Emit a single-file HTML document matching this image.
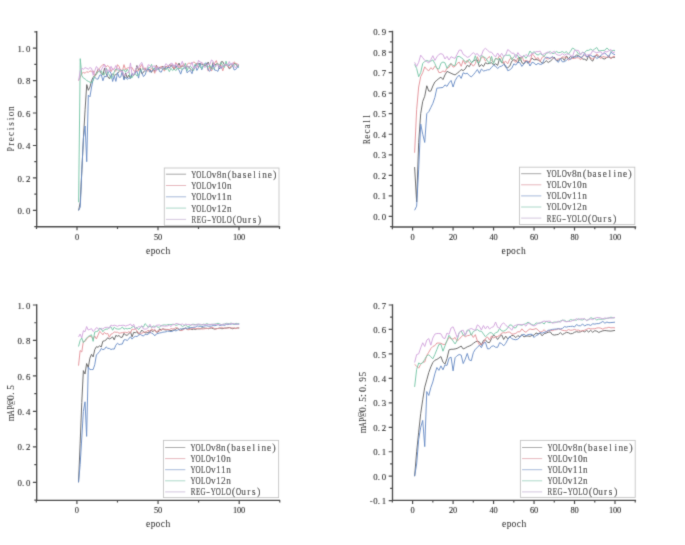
<!DOCTYPE html>
<html><head><meta charset="utf-8"><title>Training curves</title>
<style>
html,body{margin:0;padding:0;background:#ffffff;}
body{width:685px;height:545px;overflow:hidden;}
svg{display:block;}
text{font-family:"Liberation Serif",serif;}
</style></head>
<body>
<svg width="685" height="545" viewBox="0 0 685 545">
<defs><filter id="cv" filterUnits="userSpaceOnUse" x="0" y="0" width="685" height="545">
<feConvolveMatrix order="3" kernelMatrix="1 4 1 4 16 4 1 4 1" divisor="36" edgeMode="none"/></filter>
<filter id="cvl" filterUnits="userSpaceOnUse" x="0" y="0" width="685" height="545">
<feConvolveMatrix order="3" kernelMatrix="1 6 1 6 36 6 1 6 1" divisor="64" edgeMode="none"/></filter></defs>
<rect width="685" height="545" fill="#ffffff"/>
<g filter="url(#cvl)">
<polyline points="78.62,210.40 80.24,202.28 81.86,169.82 83.48,137.37 85.10,109.77 86.72,84.62 88.34,90.30 89.96,87.05 91.58,80.56 93.20,77.31 94.82,75.31 96.44,73.11 98.06,69.31 99.68,69.91 101.30,73.57 102.92,75.18 104.54,68.07 106.16,73.49 107.78,76.68 109.40,78.74 111.02,75.31 112.64,74.08 114.26,75.25 115.88,74.64 117.50,73.33 119.12,71.53 120.74,69.63 122.36,71.90 123.98,79.02 125.60,73.03 127.22,77.89 128.84,75.12 130.46,78.34 132.08,74.34 133.70,75.50 135.32,72.45 136.94,65.50 138.56,69.96 140.18,68.23 141.80,73.70 143.42,72.48 145.04,69.47 146.66,70.36 148.28,69.32 149.90,69.58 151.52,72.42 153.14,69.07 154.76,71.52 156.38,65.16 158.00,69.30 159.62,67.33 161.24,68.39 162.86,66.12 164.48,69.36 166.10,66.05 167.72,67.85 169.34,64.67 170.96,65.39 172.58,66.84 174.20,69.64 175.82,66.44 177.44,66.23 179.06,63.10 180.68,67.38 182.30,66.22 183.92,65.97 185.54,66.45 187.16,66.77 188.78,66.91 190.40,68.95 192.02,70.62 193.64,69.49 195.26,66.57 196.88,63.28 198.50,63.65 200.12,63.54 201.74,64.20 203.36,64.58 204.98,66.01 206.60,64.89 208.22,62.05 209.84,66.51 211.46,68.77 213.08,62.53 214.70,65.09 216.32,63.95 217.94,63.84 219.56,69.00 221.18,61.78 222.80,61.75 224.42,64.89 226.04,64.31 227.66,65.74 229.28,68.77 230.90,67.65 232.52,66.03 234.14,63.59 235.76,63.90 237.38,66.39 239.00,65.65" fill="none" stroke="#666666" stroke-width="0.95" stroke-linejoin="round"/>
<polyline points="78.62,80.56 80.24,77.31 81.86,73.26 83.48,72.44 85.10,73.26 86.72,71.63 88.34,72.44 89.96,70.82 91.58,71.63 93.20,70.82 94.82,76.54 96.44,74.30 98.06,69.81 99.68,67.85 101.30,66.36 102.92,64.52 104.54,64.56 106.16,66.97 107.78,65.47 109.40,67.22 111.02,71.69 112.64,68.48 114.26,70.00 115.88,71.33 117.50,64.65 119.12,66.51 120.74,71.17 122.36,71.23 123.98,64.65 125.60,69.83 127.22,67.99 128.84,67.69 130.46,67.83 132.08,67.50 133.70,70.79 135.32,71.59 136.94,70.72 138.56,70.98 140.18,67.11 141.80,64.46 143.42,69.94 145.04,67.68 146.66,70.90 148.28,71.01 149.90,69.74 151.52,68.34 153.14,69.26 154.76,73.31 156.38,65.74 158.00,67.72 159.62,69.17 161.24,66.03 162.86,68.35 164.48,71.13 166.10,66.80 167.72,65.59 169.34,68.40 170.96,64.87 172.58,65.01 174.20,69.00 175.82,62.58 177.44,64.53 179.06,68.79 180.68,65.86 182.30,65.82 183.92,63.56 185.54,68.96 187.16,64.27 188.78,63.10 190.40,63.37 192.02,63.65 193.64,61.86 195.26,62.87 196.88,64.70 198.50,67.77 200.12,63.54 201.74,62.58 203.36,64.08 204.98,64.88 206.60,63.60 208.22,71.14 209.84,66.50 211.46,71.07 213.08,66.63 214.70,63.13 216.32,60.59 217.94,65.29 219.56,64.31 221.18,65.31 222.80,70.84 224.42,65.12 226.04,65.34 227.66,65.16 229.28,67.75 230.90,66.13 232.52,65.29 234.14,61.87 235.76,63.41 237.38,64.04 239.00,65.15" fill="none" stroke="#e4949a" stroke-width="0.95" stroke-linejoin="round"/>
<polyline points="78.62,210.40 80.24,207.15 81.86,169.82 83.48,137.37 85.10,126.00 86.72,161.71 88.34,95.17 89.96,96.79 91.58,87.05 93.20,78.94 94.82,77.31 96.44,78.83 98.06,79.18 99.68,75.21 101.30,74.81 102.92,80.73 104.54,76.04 106.16,76.92 107.78,73.37 109.40,70.96 111.02,73.24 112.64,81.47 114.26,75.92 115.88,81.41 117.50,72.74 119.12,77.34 120.74,77.11 122.36,70.38 123.98,80.02 125.60,76.96 127.22,79.37 128.84,78.04 130.46,78.34 132.08,73.34 133.70,74.84 135.32,72.94 136.94,71.17 138.56,78.13 140.18,69.78 141.80,72.36 143.42,76.62 145.04,75.04 146.66,70.32 148.28,68.44 149.90,72.18 151.52,71.07 153.14,70.23 154.76,67.74 156.38,69.93 158.00,67.50 159.62,71.56 161.24,72.18 162.86,68.56 164.48,67.17 166.10,68.65 167.72,67.22 169.34,67.69 170.96,66.38 172.58,64.91 174.20,66.15 175.82,65.69 177.44,68.74 179.06,70.07 180.68,74.13 182.30,69.07 183.92,68.53 185.54,67.01 187.16,72.89 188.78,70.96 190.40,70.55 192.02,73.70 193.64,67.44 195.26,64.70 196.88,70.46 198.50,67.61 200.12,63.34 201.74,69.81 203.36,65.90 204.98,63.18 206.60,63.14 208.22,70.05 209.84,71.30 211.46,68.27 213.08,64.70 214.70,70.13 216.32,70.39 217.94,71.41 219.56,65.79 221.18,68.50 222.80,66.28 224.42,65.40 226.04,63.74 227.66,65.18 229.28,65.80 230.90,63.78 232.52,64.96 234.14,69.91 235.76,69.44 237.38,67.07 239.00,67.24" fill="none" stroke="#6c8ec6" stroke-width="0.95" stroke-linejoin="round"/>
<polyline points="78.62,202.28 80.24,58.65 81.86,75.69 83.48,78.13 85.10,78.94 86.72,80.56 88.34,81.37 89.96,82.18 91.58,82.83 93.20,80.56 94.82,75.69 96.44,74.07 98.06,71.60 99.68,71.67 101.30,70.73 102.92,74.67 104.54,74.43 106.16,68.08 107.78,73.24 109.40,74.86 111.02,78.50 112.64,76.52 114.26,71.97 115.88,68.91 117.50,69.91 119.12,70.22 120.74,70.43 122.36,71.26 123.98,69.30 125.60,72.39 127.22,69.16 128.84,71.72 130.46,77.25 132.08,77.73 133.70,74.19 135.32,73.81 136.94,75.97 138.56,75.00 140.18,71.49 141.80,69.83 143.42,68.02 145.04,71.71 146.66,69.47 148.28,67.00 149.90,67.89 151.52,64.40 153.14,69.00 154.76,69.05 156.38,68.47 158.00,69.67 159.62,69.00 161.24,67.95 162.86,68.20 164.48,69.35 166.10,69.43 167.72,68.39 169.34,71.69 170.96,68.29 172.58,70.53 174.20,69.00 175.82,70.67 177.44,68.11 179.06,68.54 180.68,68.34 182.30,69.49 183.92,67.62 185.54,63.27 187.16,70.61 188.78,66.87 190.40,66.46 192.02,67.87 193.64,70.54 195.26,64.05 196.88,65.62 198.50,63.99 200.12,66.98 201.74,68.85 203.36,64.69 204.98,64.29 206.60,66.79 208.22,67.30 209.84,65.30 211.46,68.29 213.08,69.25 214.70,67.50 216.32,64.28 217.94,63.67 219.56,65.17 221.18,62.65 222.80,65.67 224.42,67.43 226.04,61.19 227.66,66.04 229.28,64.69 230.90,64.37 232.52,65.36 234.14,65.36 235.76,64.14 237.38,65.64 239.00,66.33" fill="none" stroke="#78c6a8" stroke-width="0.95" stroke-linejoin="round"/>
<polyline points="78.62,80.56 80.24,70.82 81.86,68.39 83.48,69.20 85.10,67.58 86.72,68.39 88.34,69.20 89.96,67.58 91.58,68.39 93.20,75.37 94.82,70.65 96.44,66.49 98.06,68.88 99.68,71.47 101.30,69.91 102.92,66.93 104.54,64.23 106.16,72.73 107.78,69.46 109.40,71.37 111.02,66.29 112.64,70.01 114.26,68.95 115.88,65.51 117.50,69.19 119.12,68.52 120.74,71.78 122.36,71.17 123.98,75.67 125.60,74.32 127.22,72.60 128.84,72.59 130.46,62.92 132.08,74.86 133.70,74.94 135.32,69.77 136.94,66.82 138.56,67.39 140.18,64.07 141.80,62.51 143.42,67.50 145.04,71.24 146.66,69.10 148.28,64.72 149.90,65.37 151.52,67.16 153.14,66.22 154.76,65.92 156.38,71.16 158.00,66.79 159.62,68.84 161.24,67.78 162.86,68.11 164.48,66.51 166.10,63.62 167.72,65.74 169.34,65.30 170.96,63.15 172.58,63.68 174.20,66.88 175.82,63.84 177.44,66.17 179.06,66.48 180.68,65.23 182.30,61.32 183.92,66.54 185.54,66.81 187.16,65.39 188.78,67.67 190.40,65.69 192.02,62.00 193.64,69.09 195.26,66.28 196.88,67.43 198.50,60.30 200.12,62.04 201.74,62.52 203.36,64.59 204.98,67.65 206.60,65.56 208.22,64.15 209.84,64.58 211.46,59.94 213.08,61.26 214.70,66.15 216.32,66.20 217.94,64.36 219.56,67.82 221.18,66.11 222.80,66.73 224.42,64.73 226.04,64.23 227.66,66.10 229.28,61.51 230.90,65.11 232.52,62.78 234.14,66.68 235.76,67.60 237.38,64.77 239.00,64.54" fill="none" stroke="#d2a4dc" stroke-width="0.95" stroke-linejoin="round"/>
<polyline points="414.62,167.10 416.65,202.02 418.67,142.46 420.70,113.70 422.72,101.38 424.74,96.24 426.77,85.77 428.79,91.11 430.82,91.13 432.84,86.04 434.86,81.96 436.89,80.23 438.91,78.49 440.94,77.18 442.96,79.60 444.98,74.93 447.01,71.37 449.03,72.32 451.06,73.28 453.08,74.23 455.10,74.92 457.13,73.32 459.15,71.71 461.18,69.54 463.20,70.61 465.22,68.89 467.25,65.26 469.27,66.68 471.30,62.88 473.32,60.62 475.34,60.06 477.37,59.94 479.39,66.80 481.42,64.56 483.44,66.48 485.46,62.71 487.49,63.70 489.51,63.45 491.54,62.61 493.56,64.98 495.58,63.74 497.61,65.36 499.63,58.36 501.66,62.77 503.68,62.71 505.70,67.25 507.73,67.75 509.75,66.11 511.78,61.22 513.80,59.70 515.82,60.42 517.85,62.93 519.87,57.04 521.90,62.70 523.92,63.83 525.94,60.57 527.97,63.37 529.99,60.81 532.02,58.10 534.04,59.88 536.06,59.54 538.09,59.94 540.11,61.11 542.14,63.35 544.16,62.82 546.18,60.61 548.21,62.49 550.23,61.21 552.26,59.48 554.28,57.05 556.30,60.58 558.33,60.19 560.35,58.76 562.38,57.74 564.40,60.43 566.42,55.89 568.45,58.77 570.47,56.44 572.50,57.74 574.52,57.04 576.54,54.83 578.57,55.72 580.59,56.93 582.62,59.13 584.64,59.22 586.66,60.50 588.69,55.30 590.71,59.53 592.74,61.12 594.76,56.09 596.78,55.18 598.81,57.56 600.83,56.33 602.86,58.66 604.88,58.96 606.90,57.30 608.93,56.97 610.95,58.26 612.98,57.19 615.00,57.33" fill="none" stroke="#666666" stroke-width="0.95" stroke-linejoin="round"/>
<polyline points="414.62,152.73 416.65,109.59 418.67,87.00 420.70,76.73 422.72,72.62 424.74,66.84 426.77,69.44 428.79,70.79 430.82,67.71 432.84,69.51 434.86,66.24 436.89,67.90 438.91,72.57 440.94,72.45 442.96,70.92 444.98,72.00 447.01,68.18 449.03,67.41 451.06,63.53 453.08,67.18 455.10,66.29 457.13,63.56 459.15,62.06 461.18,66.32 463.20,60.27 465.22,64.24 467.25,60.12 469.27,62.85 471.30,63.80 473.32,66.18 475.34,63.73 477.37,56.76 479.39,62.16 481.42,57.61 483.44,56.74 485.46,61.20 487.49,58.24 489.51,56.50 491.54,60.63 493.56,62.42 495.58,58.25 497.61,59.05 499.63,55.41 501.66,57.80 503.68,62.87 505.70,61.22 507.73,63.82 509.75,59.08 511.78,57.71 513.80,60.34 515.82,62.41 517.85,57.98 519.87,60.16 521.90,56.26 523.92,61.21 525.94,60.66 527.97,61.19 529.99,62.67 532.02,53.77 534.04,55.74 536.06,59.03 538.09,57.50 540.11,61.46 542.14,57.32 544.16,56.30 546.18,58.40 548.21,58.99 550.23,58.07 552.26,57.37 554.28,58.51 556.30,59.64 558.33,58.90 560.35,58.90 562.38,56.75 564.40,57.25 566.42,57.08 568.45,60.24 570.47,58.92 572.50,58.48 574.52,58.51 576.54,57.76 578.57,57.79 580.59,59.85 582.62,56.16 584.64,55.02 586.66,57.10 588.69,55.69 590.71,57.89 592.74,59.06 594.76,57.52 596.78,53.97 598.81,55.70 600.83,58.62 602.86,56.38 604.88,57.04 606.90,57.43 608.93,55.64 610.95,58.66 612.98,56.48 615.00,56.39" fill="none" stroke="#e4949a" stroke-width="0.95" stroke-linejoin="round"/>
<polyline points="414.62,210.24 416.65,206.13 418.67,169.16 420.70,123.97 422.72,134.24 424.74,142.46 426.77,113.70 428.79,111.65 430.82,107.54 432.84,103.43 434.86,97.41 436.89,88.18 438.91,87.94 440.94,87.70 442.96,87.46 444.98,84.89 447.01,86.38 449.03,82.92 451.06,80.46 453.08,87.00 455.10,80.68 457.13,77.27 459.15,75.11 461.18,78.41 463.20,72.75 465.22,73.76 467.25,73.19 469.27,75.49 471.30,76.90 473.32,74.80 475.34,72.32 477.37,69.52 479.39,73.33 481.42,69.02 483.44,70.97 485.46,70.57 487.49,69.84 489.51,69.77 491.54,67.31 493.56,65.36 495.58,66.10 497.61,68.53 499.63,66.63 501.66,66.08 503.68,64.53 505.70,65.52 507.73,70.68 509.75,69.87 511.78,68.23 513.80,63.90 515.82,65.04 517.85,62.28 519.87,62.73 521.90,66.41 523.92,63.92 525.94,61.75 527.97,61.33 529.99,66.01 532.02,62.23 534.04,62.94 536.06,64.87 538.09,63.38 540.11,64.41 542.14,64.06 544.16,59.40 546.18,57.15 548.21,57.62 550.23,58.61 552.26,56.46 554.28,58.09 556.30,60.56 558.33,62.34 560.35,58.45 562.38,61.88 564.40,61.65 566.42,60.30 568.45,58.56 570.47,59.39 572.50,56.38 574.52,57.15 576.54,56.81 578.57,56.22 580.59,57.61 582.62,56.63 584.64,53.16 586.66,56.94 588.69,56.17 590.71,55.24 592.74,56.59 594.76,56.08 596.78,58.54 598.81,57.09 600.83,55.76 602.86,53.50 604.88,52.99 606.90,55.22 608.93,56.65 610.95,52.16 612.98,53.78 615.00,54.78" fill="none" stroke="#6c8ec6" stroke-width="0.95" stroke-linejoin="round"/>
<polyline points="414.62,64.40 416.65,68.51 418.67,76.73 420.70,72.62 422.72,63.49 424.74,61.42 426.77,60.48 428.79,61.23 430.82,61.19 432.84,59.91 434.86,63.58 436.89,68.30 438.91,69.13 440.94,63.26 442.96,61.96 444.98,62.85 447.01,68.31 449.03,65.08 451.06,63.45 453.08,65.50 455.10,65.31 457.13,56.67 459.15,56.39 461.18,57.63 463.20,59.29 465.22,61.81 467.25,62.18 469.27,59.07 471.30,62.47 473.32,61.56 475.34,55.70 477.37,62.33 479.39,62.70 481.42,55.20 483.44,56.89 485.46,57.84 487.49,60.92 489.51,63.39 491.54,56.38 493.56,63.58 495.58,58.30 497.61,59.53 499.63,58.41 501.66,62.76 503.68,56.22 505.70,54.98 507.73,55.36 509.75,54.94 511.78,59.84 513.80,56.71 515.82,54.74 517.85,55.64 519.87,60.91 521.90,57.28 523.92,55.43 525.94,58.31 527.97,55.58 529.99,51.03 532.02,53.55 534.04,51.54 536.06,54.12 538.09,55.10 540.11,53.47 542.14,54.90 544.16,56.39 546.18,53.28 548.21,52.81 550.23,51.47 552.26,53.55 554.28,53.25 556.30,51.47 558.33,52.64 560.35,52.44 562.38,51.52 564.40,52.96 566.42,51.54 568.45,54.14 570.47,51.33 572.50,48.05 574.52,49.12 576.54,51.25 578.57,54.03 580.59,53.98 582.62,52.34 584.64,52.66 586.66,50.42 588.69,50.33 590.71,49.12 592.74,50.48 594.76,48.99 596.78,47.47 598.81,51.03 600.83,50.61 602.86,50.47 604.88,50.29 606.90,47.97 608.93,49.88 610.95,51.39 612.98,50.42 615.00,50.44" fill="none" stroke="#78c6a8" stroke-width="0.95" stroke-linejoin="round"/>
<polyline points="414.62,62.35 416.65,66.46 418.67,62.35 420.70,55.16 422.72,57.73 424.74,60.30 426.77,61.63 428.79,62.97 430.82,59.68 432.84,55.69 434.86,60.43 436.89,56.92 438.91,54.46 440.94,53.61 442.96,54.49 444.98,58.97 447.01,56.36 449.03,60.06 451.06,56.67 453.08,57.77 455.10,58.36 457.13,54.16 459.15,50.23 461.18,50.03 463.20,54.36 465.22,55.63 467.25,57.35 469.27,56.70 471.30,54.40 473.32,52.68 475.34,54.48 477.37,53.64 479.39,56.46 481.42,55.43 483.44,49.94 485.46,48.32 487.49,50.20 489.51,51.99 491.54,52.21 493.56,54.82 495.58,56.97 497.61,53.05 499.63,56.36 501.66,53.31 503.68,56.73 505.70,54.83 507.73,49.62 509.75,50.96 511.78,53.33 513.80,53.09 515.82,57.90 517.85,52.55 519.87,55.62 521.90,56.63 523.92,56.64 525.94,54.50 527.97,55.92 529.99,56.18 532.02,53.26 534.04,53.32 536.06,51.58 538.09,51.74 540.11,51.11 542.14,54.80 544.16,53.85 546.18,52.81 548.21,51.87 550.23,53.57 552.26,52.51 554.28,51.38 556.30,54.38 558.33,55.15 560.35,55.30 562.38,53.58 564.40,55.27 566.42,53.88 568.45,54.26 570.47,55.23 572.50,56.59 574.52,50.46 576.54,50.28 578.57,50.56 580.59,54.97 582.62,52.21 584.64,53.40 586.66,55.23 588.69,54.62 590.71,54.26 592.74,50.67 594.76,52.01 596.78,52.71 598.81,52.06 600.83,51.81 602.86,54.58 604.88,51.40 606.90,51.98 608.93,50.83 610.95,49.47 612.98,52.61 615.00,51.87" fill="none" stroke="#d2a4dc" stroke-width="0.95" stroke-linejoin="round"/>
<polyline points="78.52,482.30 80.15,443.29 81.77,402.51 83.39,370.60 85.02,373.97 86.64,363.51 88.26,367.59 89.88,358.19 91.51,354.29 93.13,356.95 94.75,349.63 96.38,346.73 98.00,347.25 99.62,345.81 101.25,346.99 102.87,341.22 104.49,340.83 106.11,339.88 107.74,337.70 109.36,338.94 110.98,338.16 112.61,336.91 114.23,339.84 115.85,335.43 117.48,336.24 119.10,335.48 120.72,337.48 122.34,337.16 123.97,333.25 125.59,335.15 127.21,335.23 128.84,333.83 130.46,331.82 132.08,336.83 133.71,332.36 135.33,332.71 136.95,331.72 138.57,334.14 140.20,332.69 141.82,330.10 143.44,331.75 145.07,332.88 146.69,332.76 148.31,332.69 149.94,330.49 151.56,330.63 153.18,331.60 154.80,329.82 156.43,332.02 158.05,332.13 159.67,328.76 161.30,330.22 162.92,328.72 164.54,329.69 166.17,330.06 167.79,329.48 169.41,330.45 171.03,330.68 172.66,330.17 174.28,330.13 175.90,329.12 177.53,327.96 179.15,330.01 180.77,330.32 182.40,328.98 184.02,328.74 185.64,328.10 187.26,329.46 188.89,328.68 190.51,328.95 192.13,329.64 193.76,328.94 195.38,329.53 197.00,328.78 198.62,328.93 200.25,328.85 201.87,327.91 203.49,327.87 205.12,328.19 206.74,328.28 208.36,328.77 209.99,328.05 211.61,328.07 213.23,328.67 214.86,329.16 216.48,328.59 218.10,328.46 219.72,327.97 221.35,328.58 222.97,328.68 224.59,328.14 226.22,328.10 227.84,327.70 229.46,327.48 231.09,328.24 232.71,328.79 234.33,328.18 235.95,328.30 237.58,327.91 239.20,328.07" fill="none" stroke="#666666" stroke-width="0.95" stroke-linejoin="round"/>
<polyline points="78.52,365.64 80.15,350.57 81.77,351.98 83.39,341.35 85.02,341.49 86.64,339.07 88.26,336.99 89.88,336.43 91.51,336.66 93.13,339.27 94.75,336.02 96.38,338.95 98.00,335.17 99.62,331.41 101.25,332.72 102.87,334.81 104.49,332.36 106.11,334.03 107.74,333.43 109.36,337.23 110.98,334.10 112.61,333.64 114.23,331.90 115.85,332.25 117.48,332.23 119.10,333.21 120.72,332.96 122.34,332.66 123.97,332.29 125.59,332.30 127.21,332.79 128.84,331.61 130.46,332.98 132.08,329.12 133.71,329.64 135.33,328.81 136.95,330.83 138.57,333.06 140.20,333.99 141.82,333.15 143.44,332.54 145.07,331.91 146.69,331.60 148.31,329.96 149.94,333.34 151.56,328.76 153.18,330.21 154.80,329.82 156.43,332.41 158.05,330.30 159.67,330.95 161.30,329.45 162.92,329.17 164.54,329.15 166.17,329.39 167.79,329.51 169.41,329.56 171.03,328.54 172.66,328.87 174.28,328.81 175.90,327.46 177.53,328.44 179.15,329.53 180.77,330.51 182.40,330.46 184.02,329.20 185.64,328.17 187.26,329.39 188.89,329.82 190.51,329.05 192.13,328.65 193.76,328.19 195.38,328.43 197.00,328.68 198.62,328.20 200.25,328.70 201.87,329.03 203.49,328.98 205.12,328.64 206.74,328.56 208.36,328.36 209.99,328.26 211.61,327.45 213.23,327.81 214.86,328.93 216.48,328.95 218.10,328.32 219.72,328.51 221.35,327.36 222.97,328.04 224.59,328.21 226.22,328.04 227.84,328.12 229.46,327.81 231.09,328.03 232.71,327.85 234.33,328.15 235.95,328.69 237.58,327.91 239.20,327.71" fill="none" stroke="#e4949a" stroke-width="0.95" stroke-linejoin="round"/>
<polyline points="78.52,482.30 80.15,464.57 81.77,437.98 83.39,411.38 85.02,401.81 86.64,436.38 88.26,367.06 89.88,369.54 91.51,369.54 93.13,369.54 94.75,364.67 96.38,355.05 98.00,353.18 99.62,351.58 101.25,348.51 102.87,349.67 104.49,349.13 106.11,346.88 107.74,348.33 109.36,348.47 110.98,349.53 112.61,348.98 114.23,349.10 115.85,345.16 117.48,343.18 119.10,344.65 120.72,344.21 122.34,344.05 123.97,339.91 125.59,339.69 127.21,340.48 128.84,338.86 130.46,336.77 132.08,339.12 133.71,337.21 135.33,336.33 136.95,336.55 138.57,335.34 140.20,334.21 141.82,335.35 143.44,336.06 145.07,334.27 146.69,334.62 148.31,334.18 149.94,331.90 151.56,333.07 153.18,333.92 154.80,335.83 156.43,333.88 158.05,333.41 159.67,332.95 161.30,332.71 162.92,332.13 164.54,332.02 166.17,331.75 167.79,331.01 169.41,331.48 171.03,331.53 172.66,331.25 174.28,329.99 175.90,330.99 177.53,330.11 179.15,329.45 180.77,328.69 182.40,329.36 184.02,328.53 185.64,328.13 187.26,328.30 188.89,327.71 190.51,327.51 192.13,327.64 193.76,327.22 195.38,327.15 197.00,325.88 198.62,326.16 200.25,326.37 201.87,326.68 203.49,326.16 205.12,325.79 206.74,325.75 208.36,326.21 209.99,326.15 211.61,326.09 213.23,325.52 214.86,325.68 216.48,325.37 218.10,324.49 219.72,325.57 221.35,325.21 222.97,324.95 224.59,325.38 226.22,324.46 227.84,324.63 229.46,324.36 231.09,324.14 232.71,323.69 234.33,324.28 235.95,324.39 237.58,324.20 239.20,324.13" fill="none" stroke="#6c8ec6" stroke-width="0.95" stroke-linejoin="round"/>
<polyline points="78.52,346.49 80.15,340.46 81.77,337.98 83.39,342.59 85.02,340.34 86.64,338.09 88.26,336.41 89.88,335.60 91.51,334.79 93.13,341.35 94.75,331.95 96.38,331.56 98.00,331.02 99.62,328.19 101.25,328.89 102.87,331.70 104.49,329.65 106.11,329.09 107.74,329.11 109.36,327.14 110.98,326.87 112.61,330.20 114.23,327.20 115.85,328.68 117.48,329.02 119.10,329.14 120.72,328.55 122.34,327.00 123.97,329.21 125.59,328.38 127.21,328.93 128.84,328.41 130.46,328.53 132.08,327.08 133.71,326.34 135.33,328.53 136.95,327.45 138.57,329.62 140.20,327.75 141.82,326.29 143.44,327.12 145.07,323.68 146.69,325.19 148.31,327.35 149.94,326.32 151.56,327.44 153.18,326.02 154.80,326.40 156.43,326.21 158.05,327.35 159.67,326.92 161.30,325.52 162.92,325.07 164.54,324.87 166.17,325.18 167.79,324.64 169.41,324.50 171.03,324.76 172.66,324.31 174.28,324.32 175.90,325.37 177.53,324.85 179.15,324.34 180.77,325.04 182.40,326.56 184.02,325.73 185.64,325.01 187.26,326.42 188.89,326.38 190.51,325.51 192.13,324.34 193.76,324.28 195.38,324.67 197.00,324.28 198.62,324.34 200.25,325.06 201.87,324.81 203.49,324.20 205.12,324.46 206.74,323.55 208.36,324.28 209.99,324.45 211.61,324.41 213.23,324.27 214.86,324.23 216.48,323.68 218.10,323.30 219.72,323.94 221.35,324.61 222.97,324.35 224.59,324.06 226.22,323.34 227.84,323.47 229.46,323.72 231.09,323.01 232.71,323.99 234.33,324.28 235.95,323.33 237.58,323.57 239.20,323.60" fill="none" stroke="#78c6a8" stroke-width="0.95" stroke-linejoin="round"/>
<polyline points="78.52,336.91 80.15,334.08 81.77,337.98 83.39,330.71 85.02,331.72 86.64,326.54 88.26,330.01 89.88,329.40 91.51,328.65 93.13,331.48 94.75,329.99 96.38,327.63 98.00,328.44 99.62,329.95 101.25,328.36 102.87,329.03 104.49,327.61 106.11,327.34 107.74,327.34 109.36,328.33 110.98,325.07 112.61,325.75 114.23,325.20 115.85,325.58 117.48,326.35 119.10,325.41 120.72,325.52 122.34,325.30 123.97,325.31 125.59,326.07 127.21,325.45 128.84,325.02 130.46,323.97 132.08,326.17 133.71,324.25 135.33,328.69 136.95,328.19 138.57,326.63 140.20,327.11 141.82,325.73 143.44,329.04 145.07,329.11 146.69,329.04 148.31,327.04 149.94,324.29 151.56,327.18 153.18,327.13 154.80,327.78 156.43,325.23 158.05,325.10 159.67,324.93 161.30,326.04 162.92,325.92 164.54,326.16 166.17,326.12 167.79,325.87 169.41,325.15 171.03,326.66 172.66,324.48 174.28,324.83 175.90,323.55 177.53,323.54 179.15,324.40 180.77,324.44 182.40,323.93 184.02,325.30 185.64,324.10 187.26,324.53 188.89,324.46 190.51,324.85 192.13,324.72 193.76,324.97 195.38,325.06 197.00,324.55 198.62,324.14 200.25,324.24 201.87,324.93 203.49,324.65 205.12,324.71 206.74,324.54 208.36,324.67 209.99,324.64 211.61,324.28 213.23,324.40 214.86,324.29 216.48,324.43 218.10,324.63 219.72,324.48 221.35,324.86 222.97,324.23 224.59,324.17 226.22,324.17 227.84,323.71 229.46,324.35 231.09,323.67 232.71,323.57 234.33,323.75 235.95,324.28 237.58,323.97 239.20,324.00" fill="none" stroke="#d2a4dc" stroke-width="0.95" stroke-linejoin="round"/>
<polyline points="414.62,476.20 416.65,451.74 418.67,432.17 420.70,413.66 422.72,399.76 424.74,387.17 426.77,379.83 428.79,372.49 430.82,366.91 432.84,362.51 434.86,360.26 436.89,359.44 438.91,358.09 440.94,356.59 442.96,362.15 444.98,364.12 447.01,358.52 449.03,349.85 451.06,349.25 453.08,349.25 455.10,348.93 457.13,348.38 459.15,347.30 461.18,346.07 463.20,348.96 465.22,348.01 467.25,346.82 469.27,346.05 471.30,344.97 473.32,343.43 475.34,341.89 477.37,341.11 479.39,341.92 481.42,345.34 483.44,340.44 485.46,339.92 487.49,342.33 489.51,342.68 491.54,338.58 493.56,334.95 495.58,336.63 497.61,339.49 499.63,336.60 501.66,334.88 503.68,339.47 505.70,336.12 507.73,338.89 509.75,337.21 511.78,335.41 513.80,335.73 515.82,337.61 517.85,335.54 519.87,337.01 521.90,334.52 523.92,336.91 525.94,336.10 527.97,335.97 529.99,336.36 532.02,335.43 534.04,335.23 536.06,332.95 538.09,333.90 540.11,333.24 542.14,335.81 544.16,333.64 546.18,333.12 548.21,332.22 550.23,331.84 552.26,334.53 554.28,335.10 556.30,334.74 558.33,334.41 560.35,332.63 562.38,334.60 564.40,333.51 566.42,332.33 568.45,332.76 570.47,333.77 572.50,333.54 574.52,332.25 576.54,331.67 578.57,332.14 580.59,331.83 582.62,330.86 584.64,331.86 586.66,330.39 588.69,332.10 590.71,330.30 592.74,332.30 594.76,330.68 596.78,331.17 598.81,332.46 600.83,331.50 602.86,330.82 604.88,330.53 606.90,330.75 608.93,330.98 610.95,331.08 612.98,330.75 615.00,330.43" fill="none" stroke="#666666" stroke-width="0.95" stroke-linejoin="round"/>
<polyline points="414.62,364.42 416.65,366.13 418.67,368.17 420.70,364.35 422.72,362.14 424.74,362.04 426.77,355.40 428.79,352.19 430.82,348.57 432.84,346.48 434.86,345.61 436.89,343.02 438.91,343.08 440.94,343.26 442.96,344.36 444.98,344.49 447.01,340.94 449.03,337.37 451.06,338.74 453.08,339.12 455.10,337.48 457.13,341.00 459.15,339.33 461.18,336.86 463.20,335.06 465.22,336.75 467.25,335.69 469.27,335.43 471.30,333.97 473.32,337.48 475.34,334.62 477.37,340.98 479.39,344.80 481.42,343.91 483.44,343.24 485.46,338.52 487.49,336.98 489.51,340.09 491.54,335.90 493.56,338.13 495.58,336.69 497.61,336.49 499.63,335.29 501.66,333.14 503.68,332.66 505.70,332.92 507.73,332.10 509.75,331.99 511.78,334.11 513.80,333.98 515.82,333.36 517.85,331.73 519.87,331.88 521.90,328.85 523.92,331.18 525.94,332.28 527.97,330.30 529.99,328.87 532.02,329.53 534.04,329.28 536.06,328.47 538.09,330.06 540.11,332.13 542.14,331.64 544.16,329.65 546.18,331.96 548.21,330.82 550.23,330.18 552.26,330.66 554.28,329.86 556.30,329.70 558.33,328.76 560.35,329.29 562.38,330.33 564.40,330.58 566.42,330.83 568.45,329.57 570.47,330.28 572.50,330.10 574.52,329.42 576.54,330.21 578.57,330.06 580.59,331.09 582.62,330.77 584.64,330.23 586.66,329.27 588.69,328.35 590.71,328.89 592.74,328.78 594.76,328.75 596.78,328.00 598.81,327.84 600.83,328.18 602.86,329.16 604.88,327.98 606.90,327.94 608.93,327.24 610.95,327.88 612.98,327.70 615.00,327.93" fill="none" stroke="#e4949a" stroke-width="0.95" stroke-linejoin="round"/>
<polyline points="414.62,476.20 416.65,463.97 418.67,439.51 420.70,427.28 422.72,420.43 424.74,446.60 426.77,391.57 428.79,395.48 430.82,387.58 432.84,381.94 434.86,373.80 436.89,367.53 438.91,370.37 440.94,365.89 442.96,369.80 444.98,364.91 447.01,365.40 449.03,358.28 451.06,357.08 453.08,370.87 455.10,357.72 457.13,355.70 459.15,354.51 461.18,355.10 463.20,363.57 465.22,359.20 467.25,353.41 469.27,359.98 471.30,360.73 473.32,352.74 475.34,349.19 477.37,347.50 479.39,345.09 481.42,347.70 483.44,343.07 485.46,342.29 487.49,348.84 489.51,348.74 491.54,346.30 493.56,345.79 495.58,347.29 497.61,347.28 499.63,342.64 501.66,343.67 503.68,345.83 505.70,343.39 507.73,339.56 509.75,336.50 511.78,338.67 513.80,339.40 515.82,339.78 517.85,339.10 519.87,337.17 521.90,335.27 523.92,334.27 525.94,335.74 527.97,334.63 529.99,334.27 532.02,334.37 534.04,337.51 536.06,335.44 538.09,334.78 540.11,332.30 542.14,333.22 544.16,332.29 546.18,331.93 548.21,330.29 550.23,330.10 552.26,329.41 554.28,329.20 556.30,329.01 558.33,328.72 560.35,329.04 562.38,328.51 564.40,326.63 566.42,327.12 568.45,326.55 570.47,326.45 572.50,326.22 574.52,326.99 576.54,324.52 578.57,325.76 580.59,325.74 582.62,323.99 584.64,326.02 586.66,324.77 588.69,324.69 590.71,325.43 592.74,323.75 594.76,324.13 596.78,323.64 598.81,323.62 600.83,322.70 602.86,321.42 604.88,323.19 606.90,322.06 608.93,322.73 610.95,322.57 612.98,322.40 615.00,322.18" fill="none" stroke="#6c8ec6" stroke-width="0.95" stroke-linejoin="round"/>
<polyline points="414.62,386.92 416.65,369.45 418.67,363.02 420.70,363.95 422.72,362.72 424.74,359.33 426.77,355.94 428.79,354.72 430.82,356.78 432.84,358.83 434.86,354.51 436.89,349.48 438.91,344.44 440.94,344.22 442.96,351.21 444.98,345.91 447.01,340.61 449.03,335.31 451.06,338.19 453.08,341.07 455.10,343.94 457.13,340.37 459.15,332.48 461.18,330.91 463.20,334.99 465.22,335.31 467.25,330.11 469.27,330.19 471.30,335.31 473.32,331.53 475.34,330.45 477.37,329.56 479.39,331.12 481.42,331.15 483.44,333.99 485.46,336.82 487.49,334.90 489.51,332.74 491.54,332.69 493.56,334.89 495.58,332.71 497.61,332.08 499.63,328.31 501.66,330.93 503.68,331.19 505.70,330.18 507.73,327.92 509.75,324.85 511.78,325.20 513.80,327.77 515.82,327.80 517.85,324.43 519.87,324.86 521.90,325.25 523.92,324.35 525.94,323.75 527.97,322.13 529.99,323.36 532.02,324.71 534.04,325.28 536.06,322.95 538.09,323.31 540.11,323.06 542.14,322.48 544.16,323.99 546.18,321.10 548.21,322.40 550.23,322.59 552.26,322.61 554.28,322.04 556.30,322.10 558.33,321.98 560.35,321.10 562.38,320.21 564.40,320.24 566.42,321.51 568.45,321.18 570.47,319.64 572.50,320.08 574.52,319.99 576.54,320.13 578.57,318.80 580.59,319.76 582.62,319.95 584.64,318.83 586.66,320.31 588.69,319.84 590.71,317.60 592.74,318.52 594.76,318.41 596.78,320.01 598.81,319.05 600.83,319.30 602.86,319.07 604.88,318.97 606.90,318.20 608.93,318.15 610.95,317.10 612.98,317.96 615.00,317.69" fill="none" stroke="#78c6a8" stroke-width="0.95" stroke-linejoin="round"/>
<polyline points="414.62,362.46 416.65,354.57 418.67,353.90 420.70,347.85 422.72,342.78 424.74,346.56 426.77,340.14 428.79,338.53 430.82,345.16 432.84,338.03 434.86,334.12 436.89,333.56 438.91,333.43 440.94,333.84 442.96,337.84 444.98,338.55 447.01,333.02 449.03,334.38 451.06,328.05 453.08,326.80 455.10,331.77 457.13,337.51 459.15,333.11 461.18,330.72 463.20,330.23 465.22,335.38 467.25,330.97 469.27,329.28 471.30,328.48 473.32,329.44 475.34,330.48 477.37,324.88 479.39,326.31 481.42,329.98 483.44,325.52 485.46,328.93 487.49,325.96 489.51,329.00 491.54,327.43 493.56,326.66 495.58,322.02 497.61,327.37 499.63,328.24 501.66,324.22 503.68,322.97 505.70,324.93 507.73,327.15 509.75,327.83 511.78,330.25 513.80,326.15 515.82,325.22 517.85,324.68 519.87,324.49 521.90,324.79 523.92,324.21 525.94,326.19 527.97,323.10 529.99,323.94 532.02,325.27 534.04,325.94 536.06,324.99 538.09,323.30 540.11,322.95 542.14,321.83 544.16,321.00 546.18,321.59 548.21,321.15 550.23,321.20 552.26,323.12 554.28,322.83 556.30,322.41 558.33,321.22 560.35,322.42 562.38,320.00 564.40,321.35 566.42,321.76 568.45,321.47 570.47,321.52 572.50,320.55 574.52,320.07 576.54,318.60 578.57,319.72 580.59,318.86 582.62,318.78 584.64,318.88 586.66,320.68 588.69,319.25 590.71,318.93 592.74,319.67 594.76,318.40 596.78,317.56 598.81,317.64 600.83,318.10 602.86,318.97 604.88,317.92 606.90,318.52 608.93,317.66 610.95,318.29 612.98,317.78 615.00,317.41" fill="none" stroke="#d2a4dc" stroke-width="0.95" stroke-linejoin="round"/>
</g>
<g filter="url(#cvl)">
<rect x="164.30" y="168.00" width="114.70" height="57.40" fill="#ffffff" stroke="#c4c4c4" stroke-width="0.9"/>
<line x1="165.90" y1="174.20" x2="186.10" y2="174.20" stroke="#8e8e8e" stroke-width="0.8"/>
<g font-size="11.00" fill="#2c2c2c" text-anchor="middle"><text transform="translate(193.83 177.60) scale(0.640 1)" x="0" y="0" stroke="#2c2c2c" stroke-width="0.12">Y</text><text transform="translate(198.89 177.60) scale(0.640 1)" x="0" y="0" stroke="#2c2c2c" stroke-width="0.12">O</text><text transform="translate(203.95 177.60) scale(0.640 1)" x="0" y="0" stroke="#2c2c2c" stroke-width="0.12">L</text><text transform="translate(209.01 177.60) scale(0.640 1)" x="0" y="0" stroke="#2c2c2c" stroke-width="0.12">O</text><text transform="translate(214.07 177.60) scale(0.840 1)" x="0" y="0" stroke="#2c2c2c" stroke-width="0.10">v</text><text transform="translate(219.13 177.60) scale(0.860 1)" x="0" y="0" stroke="#2c2c2c" stroke-width="0.09">8</text><text transform="translate(224.19 177.60) scale(0.840 1)" x="0" y="0" stroke="#2c2c2c" stroke-width="0.10">n</text><text transform="translate(229.25 177.60) scale(0.950 1)" x="0" y="0" stroke="#2c2c2c" stroke-width="0.08">(</text><text transform="translate(234.31 177.60) scale(0.840 1)" x="0" y="0" stroke="#2c2c2c" stroke-width="0.10">b</text><text transform="translate(239.37 177.60) scale(0.840 1)" x="0" y="0" stroke="#2c2c2c" stroke-width="0.10">a</text><text transform="translate(244.43 177.60) scale(0.840 1)" x="0" y="0" stroke="#2c2c2c" stroke-width="0.10">s</text><text transform="translate(249.49 177.60) scale(0.840 1)" x="0" y="0" stroke="#2c2c2c" stroke-width="0.10">e</text><text transform="translate(254.55 177.60) scale(0.840 1)" x="0" y="0" stroke="#2c2c2c" stroke-width="0.10">l</text><text transform="translate(259.61 177.60) scale(0.840 1)" x="0" y="0" stroke="#2c2c2c" stroke-width="0.10">i</text><text transform="translate(264.67 177.60) scale(0.840 1)" x="0" y="0" stroke="#2c2c2c" stroke-width="0.10">n</text><text transform="translate(269.73 177.60) scale(0.840 1)" x="0" y="0" stroke="#2c2c2c" stroke-width="0.10">e</text><text transform="translate(274.79 177.60) scale(0.950 1)" x="0" y="0" stroke="#2c2c2c" stroke-width="0.08">)</text></g>
<line x1="165.90" y1="185.50" x2="186.10" y2="185.50" stroke="#e0a0a8" stroke-width="0.8"/>
<g font-size="11.00" fill="#2c2c2c" text-anchor="middle"><text transform="translate(193.83 188.90) scale(0.640 1)" x="0" y="0" stroke="#2c2c2c" stroke-width="0.12">Y</text><text transform="translate(198.89 188.90) scale(0.640 1)" x="0" y="0" stroke="#2c2c2c" stroke-width="0.12">O</text><text transform="translate(203.95 188.90) scale(0.640 1)" x="0" y="0" stroke="#2c2c2c" stroke-width="0.12">L</text><text transform="translate(209.01 188.90) scale(0.640 1)" x="0" y="0" stroke="#2c2c2c" stroke-width="0.12">O</text><text transform="translate(214.07 188.90) scale(0.840 1)" x="0" y="0" stroke="#2c2c2c" stroke-width="0.10">v</text><text transform="translate(219.13 188.90) scale(0.860 1)" x="0" y="0" stroke="#2c2c2c" stroke-width="0.09">1</text><text transform="translate(224.19 188.90) scale(0.860 1)" x="0" y="0" stroke="#2c2c2c" stroke-width="0.09">0</text><text transform="translate(229.25 188.90) scale(0.840 1)" x="0" y="0" stroke="#2c2c2c" stroke-width="0.10">n</text></g>
<line x1="165.90" y1="196.80" x2="186.10" y2="196.80" stroke="#8ea6d0" stroke-width="0.8"/>
<g font-size="11.00" fill="#2c2c2c" text-anchor="middle"><text transform="translate(193.83 200.20) scale(0.640 1)" x="0" y="0" stroke="#2c2c2c" stroke-width="0.12">Y</text><text transform="translate(198.89 200.20) scale(0.640 1)" x="0" y="0" stroke="#2c2c2c" stroke-width="0.12">O</text><text transform="translate(203.95 200.20) scale(0.640 1)" x="0" y="0" stroke="#2c2c2c" stroke-width="0.12">L</text><text transform="translate(209.01 200.20) scale(0.640 1)" x="0" y="0" stroke="#2c2c2c" stroke-width="0.12">O</text><text transform="translate(214.07 200.20) scale(0.840 1)" x="0" y="0" stroke="#2c2c2c" stroke-width="0.10">v</text><text transform="translate(219.13 200.20) scale(0.860 1)" x="0" y="0" stroke="#2c2c2c" stroke-width="0.09">1</text><text transform="translate(224.19 200.20) scale(0.860 1)" x="0" y="0" stroke="#2c2c2c" stroke-width="0.09">1</text><text transform="translate(229.25 200.20) scale(0.840 1)" x="0" y="0" stroke="#2c2c2c" stroke-width="0.10">n</text></g>
<line x1="165.90" y1="208.10" x2="186.10" y2="208.10" stroke="#96ceba" stroke-width="0.8"/>
<g font-size="11.00" fill="#2c2c2c" text-anchor="middle"><text transform="translate(193.83 211.50) scale(0.640 1)" x="0" y="0" stroke="#2c2c2c" stroke-width="0.12">Y</text><text transform="translate(198.89 211.50) scale(0.640 1)" x="0" y="0" stroke="#2c2c2c" stroke-width="0.12">O</text><text transform="translate(203.95 211.50) scale(0.640 1)" x="0" y="0" stroke="#2c2c2c" stroke-width="0.12">L</text><text transform="translate(209.01 211.50) scale(0.640 1)" x="0" y="0" stroke="#2c2c2c" stroke-width="0.12">O</text><text transform="translate(214.07 211.50) scale(0.840 1)" x="0" y="0" stroke="#2c2c2c" stroke-width="0.10">v</text><text transform="translate(219.13 211.50) scale(0.860 1)" x="0" y="0" stroke="#2c2c2c" stroke-width="0.09">1</text><text transform="translate(224.19 211.50) scale(0.860 1)" x="0" y="0" stroke="#2c2c2c" stroke-width="0.09">2</text><text transform="translate(229.25 211.50) scale(0.840 1)" x="0" y="0" stroke="#2c2c2c" stroke-width="0.10">n</text></g>
<line x1="165.90" y1="219.40" x2="186.10" y2="219.40" stroke="#c8b8d6" stroke-width="0.8"/>
<g font-size="11.00" fill="#2c2c2c" text-anchor="middle"><text transform="translate(193.83 222.80) scale(0.640 1)" x="0" y="0" stroke="#2c2c2c" stroke-width="0.12">R</text><text transform="translate(198.89 222.80) scale(0.640 1)" x="0" y="0" stroke="#2c2c2c" stroke-width="0.12">E</text><text transform="translate(203.95 222.80) scale(0.640 1)" x="0" y="0" stroke="#2c2c2c" stroke-width="0.12">G</text><text x="209.01" y="222.80" stroke="#2c2c2c" stroke-width="0.08">-</text><text transform="translate(214.07 222.80) scale(0.640 1)" x="0" y="0" stroke="#2c2c2c" stroke-width="0.12">Y</text><text transform="translate(219.13 222.80) scale(0.640 1)" x="0" y="0" stroke="#2c2c2c" stroke-width="0.12">O</text><text transform="translate(224.19 222.80) scale(0.640 1)" x="0" y="0" stroke="#2c2c2c" stroke-width="0.12">L</text><text transform="translate(229.25 222.80) scale(0.640 1)" x="0" y="0" stroke="#2c2c2c" stroke-width="0.12">O</text><text transform="translate(234.31 222.80) scale(0.950 1)" x="0" y="0" stroke="#2c2c2c" stroke-width="0.08">(</text><text transform="translate(239.37 222.80) scale(0.640 1)" x="0" y="0" stroke="#2c2c2c" stroke-width="0.12">O</text><text transform="translate(244.43 222.80) scale(0.840 1)" x="0" y="0" stroke="#2c2c2c" stroke-width="0.10">u</text><text transform="translate(249.49 222.80) scale(0.840 1)" x="0" y="0" stroke="#2c2c2c" stroke-width="0.10">r</text><text transform="translate(254.55 222.80) scale(0.840 1)" x="0" y="0" stroke="#2c2c2c" stroke-width="0.10">s</text><text transform="translate(259.61 222.80) scale(0.950 1)" x="0" y="0" stroke="#2c2c2c" stroke-width="0.08">)</text></g>
<path d="M36.70 31.60 V226.70 H279.50" fill="none" stroke="#4c4c4c" stroke-width="1.35" stroke-linecap="square"/>
<path d="M36.70 226.63H34.30 M36.70 210.40H32.90 M36.70 194.17H34.30 M36.70 177.94H32.90 M36.70 161.71H34.30 M36.70 145.48H32.90 M36.70 129.25H34.30 M36.70 113.02H32.90 M36.70 96.79H34.30 M36.70 80.56H32.90 M36.70 64.33H34.30 M36.70 48.10H32.90 M36.70 31.87H34.30 M36.50 226.70V228.90 M77.00 226.70V230.30 M117.50 226.70V228.90 M158.00 226.70V230.30 M198.50 226.70V228.90 M239.00 226.70V230.30 M279.50 226.70V228.90" stroke="#4c4c4c" stroke-width="1.2"/>
<g font-size="8.80" fill="#2e2e2e" text-anchor="middle"><text x="19.58" y="214.00" stroke="#2e2e2e" stroke-width="0.10">0</text><text x="22.98" y="214.00" stroke="#2e2e2e" stroke-width="0.10">.</text><text x="28.08" y="214.00" stroke="#2e2e2e" stroke-width="0.10">0</text></g>
<g font-size="8.80" fill="#2e2e2e" text-anchor="middle"><text x="19.58" y="181.54" stroke="#2e2e2e" stroke-width="0.10">0</text><text x="22.98" y="181.54" stroke="#2e2e2e" stroke-width="0.10">.</text><text x="28.08" y="181.54" stroke="#2e2e2e" stroke-width="0.10">2</text></g>
<g font-size="8.80" fill="#2e2e2e" text-anchor="middle"><text x="19.58" y="149.08" stroke="#2e2e2e" stroke-width="0.10">0</text><text x="22.98" y="149.08" stroke="#2e2e2e" stroke-width="0.10">.</text><text x="28.08" y="149.08" stroke="#2e2e2e" stroke-width="0.10">4</text></g>
<g font-size="8.80" fill="#2e2e2e" text-anchor="middle"><text x="19.58" y="116.62" stroke="#2e2e2e" stroke-width="0.10">0</text><text x="22.98" y="116.62" stroke="#2e2e2e" stroke-width="0.10">.</text><text x="28.08" y="116.62" stroke="#2e2e2e" stroke-width="0.10">6</text></g>
<g font-size="8.80" fill="#2e2e2e" text-anchor="middle"><text x="19.58" y="84.16" stroke="#2e2e2e" stroke-width="0.10">0</text><text x="22.98" y="84.16" stroke="#2e2e2e" stroke-width="0.10">.</text><text x="28.08" y="84.16" stroke="#2e2e2e" stroke-width="0.10">8</text></g>
<g font-size="8.80" fill="#2e2e2e" text-anchor="middle"><text x="19.58" y="51.70" stroke="#2e2e2e" stroke-width="0.10">1</text><text x="22.98" y="51.70" stroke="#2e2e2e" stroke-width="0.10">.</text><text x="28.08" y="51.70" stroke="#2e2e2e" stroke-width="0.10">0</text></g>
<g font-size="8.40" fill="#2e2e2e" text-anchor="middle"><text x="77.00" y="239.80" stroke="#2e2e2e" stroke-width="0.10">0</text></g>
<g font-size="8.40" fill="#2e2e2e" text-anchor="middle"><text x="156.00" y="239.80" stroke="#2e2e2e" stroke-width="0.10">5</text><text x="160.00" y="239.80" stroke="#2e2e2e" stroke-width="0.10">0</text></g>
<g font-size="8.40" fill="#2e2e2e" text-anchor="middle"><text x="235.00" y="239.80" stroke="#2e2e2e" stroke-width="0.10">1</text><text x="239.00" y="239.80" stroke="#2e2e2e" stroke-width="0.10">0</text><text x="243.00" y="239.80" stroke="#2e2e2e" stroke-width="0.10">0</text></g>
<g transform="rotate(-90 10.70 129.00)"><g font-size="11.00" fill="#3a3a3a" text-anchor="middle"><text transform="translate(-9.50 132.60) scale(0.640 1)" x="0" y="0" stroke="#3a3a3a" stroke-width="0.06">P</text><text transform="translate(-4.45 132.60) scale(0.840 1)" x="0" y="0" stroke="#3a3a3a" stroke-width="0.05">r</text><text transform="translate(0.60 132.60) scale(0.840 1)" x="0" y="0" stroke="#3a3a3a" stroke-width="0.05">e</text><text transform="translate(5.65 132.60) scale(0.840 1)" x="0" y="0" stroke="#3a3a3a" stroke-width="0.05">c</text><text transform="translate(10.70 132.60) scale(0.840 1)" x="0" y="0" stroke="#3a3a3a" stroke-width="0.05">i</text><text transform="translate(15.75 132.60) scale(0.840 1)" x="0" y="0" stroke="#3a3a3a" stroke-width="0.05">s</text><text transform="translate(20.80 132.60) scale(0.840 1)" x="0" y="0" stroke="#3a3a3a" stroke-width="0.05">i</text><text transform="translate(25.85 132.60) scale(0.840 1)" x="0" y="0" stroke="#3a3a3a" stroke-width="0.05">o</text><text transform="translate(30.90 132.60) scale(0.840 1)" x="0" y="0" stroke="#3a3a3a" stroke-width="0.05">n</text></g></g>
<g font-size="11.40" fill="#2a2a2a" text-anchor="middle"><text transform="translate(148.08 253.60) scale(0.840 1)" x="0" y="0">e</text><text transform="translate(153.04 253.60) scale(0.840 1)" x="0" y="0">p</text><text transform="translate(158.00 253.60) scale(0.840 1)" x="0" y="0">o</text><text transform="translate(162.96 253.60) scale(0.840 1)" x="0" y="0">c</text><text transform="translate(167.92 253.60) scale(0.840 1)" x="0" y="0">h</text></g>
<rect x="519.50" y="167.20" width="115.30" height="57.30" fill="#ffffff" stroke="#c4c4c4" stroke-width="0.9"/>
<line x1="521.10" y1="173.70" x2="541.30" y2="173.70" stroke="#8e8e8e" stroke-width="0.8"/>
<g font-size="11.00" fill="#2c2c2c" text-anchor="middle"><text transform="translate(549.03 177.10) scale(0.640 1)" x="0" y="0" stroke="#2c2c2c" stroke-width="0.12">Y</text><text transform="translate(554.09 177.10) scale(0.640 1)" x="0" y="0" stroke="#2c2c2c" stroke-width="0.12">O</text><text transform="translate(559.15 177.10) scale(0.640 1)" x="0" y="0" stroke="#2c2c2c" stroke-width="0.12">L</text><text transform="translate(564.21 177.10) scale(0.640 1)" x="0" y="0" stroke="#2c2c2c" stroke-width="0.12">O</text><text transform="translate(569.27 177.10) scale(0.840 1)" x="0" y="0" stroke="#2c2c2c" stroke-width="0.10">v</text><text transform="translate(574.33 177.10) scale(0.860 1)" x="0" y="0" stroke="#2c2c2c" stroke-width="0.09">8</text><text transform="translate(579.39 177.10) scale(0.840 1)" x="0" y="0" stroke="#2c2c2c" stroke-width="0.10">n</text><text transform="translate(584.45 177.10) scale(0.950 1)" x="0" y="0" stroke="#2c2c2c" stroke-width="0.08">(</text><text transform="translate(589.51 177.10) scale(0.840 1)" x="0" y="0" stroke="#2c2c2c" stroke-width="0.10">b</text><text transform="translate(594.57 177.10) scale(0.840 1)" x="0" y="0" stroke="#2c2c2c" stroke-width="0.10">a</text><text transform="translate(599.63 177.10) scale(0.840 1)" x="0" y="0" stroke="#2c2c2c" stroke-width="0.10">s</text><text transform="translate(604.69 177.10) scale(0.840 1)" x="0" y="0" stroke="#2c2c2c" stroke-width="0.10">e</text><text transform="translate(609.75 177.10) scale(0.840 1)" x="0" y="0" stroke="#2c2c2c" stroke-width="0.10">l</text><text transform="translate(614.81 177.10) scale(0.840 1)" x="0" y="0" stroke="#2c2c2c" stroke-width="0.10">i</text><text transform="translate(619.87 177.10) scale(0.840 1)" x="0" y="0" stroke="#2c2c2c" stroke-width="0.10">n</text><text transform="translate(624.93 177.10) scale(0.840 1)" x="0" y="0" stroke="#2c2c2c" stroke-width="0.10">e</text><text transform="translate(629.99 177.10) scale(0.950 1)" x="0" y="0" stroke="#2c2c2c" stroke-width="0.08">)</text></g>
<line x1="521.10" y1="184.80" x2="541.30" y2="184.80" stroke="#e0a0a8" stroke-width="0.8"/>
<g font-size="11.00" fill="#2c2c2c" text-anchor="middle"><text transform="translate(549.03 188.20) scale(0.640 1)" x="0" y="0" stroke="#2c2c2c" stroke-width="0.12">Y</text><text transform="translate(554.09 188.20) scale(0.640 1)" x="0" y="0" stroke="#2c2c2c" stroke-width="0.12">O</text><text transform="translate(559.15 188.20) scale(0.640 1)" x="0" y="0" stroke="#2c2c2c" stroke-width="0.12">L</text><text transform="translate(564.21 188.20) scale(0.640 1)" x="0" y="0" stroke="#2c2c2c" stroke-width="0.12">O</text><text transform="translate(569.27 188.20) scale(0.840 1)" x="0" y="0" stroke="#2c2c2c" stroke-width="0.10">v</text><text transform="translate(574.33 188.20) scale(0.860 1)" x="0" y="0" stroke="#2c2c2c" stroke-width="0.09">1</text><text transform="translate(579.39 188.20) scale(0.860 1)" x="0" y="0" stroke="#2c2c2c" stroke-width="0.09">0</text><text transform="translate(584.45 188.20) scale(0.840 1)" x="0" y="0" stroke="#2c2c2c" stroke-width="0.10">n</text></g>
<line x1="521.10" y1="195.90" x2="541.30" y2="195.90" stroke="#8ea6d0" stroke-width="0.8"/>
<g font-size="11.00" fill="#2c2c2c" text-anchor="middle"><text transform="translate(549.03 199.30) scale(0.640 1)" x="0" y="0" stroke="#2c2c2c" stroke-width="0.12">Y</text><text transform="translate(554.09 199.30) scale(0.640 1)" x="0" y="0" stroke="#2c2c2c" stroke-width="0.12">O</text><text transform="translate(559.15 199.30) scale(0.640 1)" x="0" y="0" stroke="#2c2c2c" stroke-width="0.12">L</text><text transform="translate(564.21 199.30) scale(0.640 1)" x="0" y="0" stroke="#2c2c2c" stroke-width="0.12">O</text><text transform="translate(569.27 199.30) scale(0.840 1)" x="0" y="0" stroke="#2c2c2c" stroke-width="0.10">v</text><text transform="translate(574.33 199.30) scale(0.860 1)" x="0" y="0" stroke="#2c2c2c" stroke-width="0.09">1</text><text transform="translate(579.39 199.30) scale(0.860 1)" x="0" y="0" stroke="#2c2c2c" stroke-width="0.09">1</text><text transform="translate(584.45 199.30) scale(0.840 1)" x="0" y="0" stroke="#2c2c2c" stroke-width="0.10">n</text></g>
<line x1="521.10" y1="207.00" x2="541.30" y2="207.00" stroke="#96ceba" stroke-width="0.8"/>
<g font-size="11.00" fill="#2c2c2c" text-anchor="middle"><text transform="translate(549.03 210.40) scale(0.640 1)" x="0" y="0" stroke="#2c2c2c" stroke-width="0.12">Y</text><text transform="translate(554.09 210.40) scale(0.640 1)" x="0" y="0" stroke="#2c2c2c" stroke-width="0.12">O</text><text transform="translate(559.15 210.40) scale(0.640 1)" x="0" y="0" stroke="#2c2c2c" stroke-width="0.12">L</text><text transform="translate(564.21 210.40) scale(0.640 1)" x="0" y="0" stroke="#2c2c2c" stroke-width="0.12">O</text><text transform="translate(569.27 210.40) scale(0.840 1)" x="0" y="0" stroke="#2c2c2c" stroke-width="0.10">v</text><text transform="translate(574.33 210.40) scale(0.860 1)" x="0" y="0" stroke="#2c2c2c" stroke-width="0.09">1</text><text transform="translate(579.39 210.40) scale(0.860 1)" x="0" y="0" stroke="#2c2c2c" stroke-width="0.09">2</text><text transform="translate(584.45 210.40) scale(0.840 1)" x="0" y="0" stroke="#2c2c2c" stroke-width="0.10">n</text></g>
<line x1="521.10" y1="218.10" x2="541.30" y2="218.10" stroke="#c8b8d6" stroke-width="0.8"/>
<g font-size="11.00" fill="#2c2c2c" text-anchor="middle"><text transform="translate(549.03 221.50) scale(0.640 1)" x="0" y="0" stroke="#2c2c2c" stroke-width="0.12">R</text><text transform="translate(554.09 221.50) scale(0.640 1)" x="0" y="0" stroke="#2c2c2c" stroke-width="0.12">E</text><text transform="translate(559.15 221.50) scale(0.640 1)" x="0" y="0" stroke="#2c2c2c" stroke-width="0.12">G</text><text x="564.21" y="221.50" stroke="#2c2c2c" stroke-width="0.08">-</text><text transform="translate(569.27 221.50) scale(0.640 1)" x="0" y="0" stroke="#2c2c2c" stroke-width="0.12">Y</text><text transform="translate(574.33 221.50) scale(0.640 1)" x="0" y="0" stroke="#2c2c2c" stroke-width="0.12">O</text><text transform="translate(579.39 221.50) scale(0.640 1)" x="0" y="0" stroke="#2c2c2c" stroke-width="0.12">L</text><text transform="translate(584.45 221.50) scale(0.640 1)" x="0" y="0" stroke="#2c2c2c" stroke-width="0.12">O</text><text transform="translate(589.51 221.50) scale(0.950 1)" x="0" y="0" stroke="#2c2c2c" stroke-width="0.08">(</text><text transform="translate(594.57 221.50) scale(0.640 1)" x="0" y="0" stroke="#2c2c2c" stroke-width="0.12">O</text><text transform="translate(599.63 221.50) scale(0.840 1)" x="0" y="0" stroke="#2c2c2c" stroke-width="0.10">u</text><text transform="translate(604.69 221.50) scale(0.840 1)" x="0" y="0" stroke="#2c2c2c" stroke-width="0.10">r</text><text transform="translate(609.75 221.50) scale(0.840 1)" x="0" y="0" stroke="#2c2c2c" stroke-width="0.10">s</text><text transform="translate(614.81 221.50) scale(0.950 1)" x="0" y="0" stroke="#2c2c2c" stroke-width="0.08">)</text></g>
<path d="M392.50 31.50 V227.00 H635.50" fill="none" stroke="#4c4c4c" stroke-width="1.35" stroke-linecap="square"/>
<path d="M392.50 226.67H390.10 M392.50 216.40H388.70 M392.50 206.13H390.10 M392.50 195.86H388.70 M392.50 185.59H390.10 M392.50 175.32H388.70 M392.50 165.05H390.10 M392.50 154.78H388.70 M392.50 144.51H390.10 M392.50 134.24H388.70 M392.50 123.97H390.10 M392.50 113.70H388.70 M392.50 103.43H390.10 M392.50 93.16H388.70 M392.50 82.89H390.10 M392.50 72.62H388.70 M392.50 62.35H390.10 M392.50 52.08H388.70 M392.50 41.81H390.10 M392.50 31.54H388.70 M392.36 227.00V229.20 M412.60 227.00V230.60 M432.84 227.00V229.20 M453.08 227.00V230.60 M473.32 227.00V229.20 M493.56 227.00V230.60 M513.80 227.00V229.20 M534.04 227.00V230.60 M554.28 227.00V229.20 M574.52 227.00V230.60 M594.76 227.00V229.20 M615.00 227.00V230.60 M635.24 227.00V229.20" stroke="#4c4c4c" stroke-width="1.2"/>
<g font-size="8.80" fill="#2e2e2e" text-anchor="middle"><text x="375.38" y="220.00" stroke="#2e2e2e" stroke-width="0.10">0</text><text x="378.77" y="220.00" stroke="#2e2e2e" stroke-width="0.10">.</text><text x="383.88" y="220.00" stroke="#2e2e2e" stroke-width="0.10">0</text></g>
<g font-size="8.80" fill="#2e2e2e" text-anchor="middle"><text x="375.38" y="199.46" stroke="#2e2e2e" stroke-width="0.10">0</text><text x="378.77" y="199.46" stroke="#2e2e2e" stroke-width="0.10">.</text><text x="383.88" y="199.46" stroke="#2e2e2e" stroke-width="0.10">1</text></g>
<g font-size="8.80" fill="#2e2e2e" text-anchor="middle"><text x="375.38" y="178.92" stroke="#2e2e2e" stroke-width="0.10">0</text><text x="378.77" y="178.92" stroke="#2e2e2e" stroke-width="0.10">.</text><text x="383.88" y="178.92" stroke="#2e2e2e" stroke-width="0.10">2</text></g>
<g font-size="8.80" fill="#2e2e2e" text-anchor="middle"><text x="375.38" y="158.38" stroke="#2e2e2e" stroke-width="0.10">0</text><text x="378.77" y="158.38" stroke="#2e2e2e" stroke-width="0.10">.</text><text x="383.88" y="158.38" stroke="#2e2e2e" stroke-width="0.10">3</text></g>
<g font-size="8.80" fill="#2e2e2e" text-anchor="middle"><text x="375.38" y="137.84" stroke="#2e2e2e" stroke-width="0.10">0</text><text x="378.77" y="137.84" stroke="#2e2e2e" stroke-width="0.10">.</text><text x="383.88" y="137.84" stroke="#2e2e2e" stroke-width="0.10">4</text></g>
<g font-size="8.80" fill="#2e2e2e" text-anchor="middle"><text x="375.38" y="117.30" stroke="#2e2e2e" stroke-width="0.10">0</text><text x="378.77" y="117.30" stroke="#2e2e2e" stroke-width="0.10">.</text><text x="383.88" y="117.30" stroke="#2e2e2e" stroke-width="0.10">5</text></g>
<g font-size="8.80" fill="#2e2e2e" text-anchor="middle"><text x="375.38" y="96.76" stroke="#2e2e2e" stroke-width="0.10">0</text><text x="378.77" y="96.76" stroke="#2e2e2e" stroke-width="0.10">.</text><text x="383.88" y="96.76" stroke="#2e2e2e" stroke-width="0.10">6</text></g>
<g font-size="8.80" fill="#2e2e2e" text-anchor="middle"><text x="375.38" y="76.22" stroke="#2e2e2e" stroke-width="0.10">0</text><text x="378.77" y="76.22" stroke="#2e2e2e" stroke-width="0.10">.</text><text x="383.88" y="76.22" stroke="#2e2e2e" stroke-width="0.10">7</text></g>
<g font-size="8.80" fill="#2e2e2e" text-anchor="middle"><text x="375.38" y="55.68" stroke="#2e2e2e" stroke-width="0.10">0</text><text x="378.77" y="55.68" stroke="#2e2e2e" stroke-width="0.10">.</text><text x="383.88" y="55.68" stroke="#2e2e2e" stroke-width="0.10">8</text></g>
<g font-size="8.80" fill="#2e2e2e" text-anchor="middle"><text x="375.38" y="35.14" stroke="#2e2e2e" stroke-width="0.10">0</text><text x="378.77" y="35.14" stroke="#2e2e2e" stroke-width="0.10">.</text><text x="383.88" y="35.14" stroke="#2e2e2e" stroke-width="0.10">9</text></g>
<g font-size="8.40" fill="#2e2e2e" text-anchor="middle"><text x="412.60" y="240.10" stroke="#2e2e2e" stroke-width="0.10">0</text></g>
<g font-size="8.40" fill="#2e2e2e" text-anchor="middle"><text x="451.08" y="240.10" stroke="#2e2e2e" stroke-width="0.10">2</text><text x="455.08" y="240.10" stroke="#2e2e2e" stroke-width="0.10">0</text></g>
<g font-size="8.40" fill="#2e2e2e" text-anchor="middle"><text x="491.56" y="240.10" stroke="#2e2e2e" stroke-width="0.10">4</text><text x="495.56" y="240.10" stroke="#2e2e2e" stroke-width="0.10">0</text></g>
<g font-size="8.40" fill="#2e2e2e" text-anchor="middle"><text x="532.04" y="240.10" stroke="#2e2e2e" stroke-width="0.10">6</text><text x="536.04" y="240.10" stroke="#2e2e2e" stroke-width="0.10">0</text></g>
<g font-size="8.40" fill="#2e2e2e" text-anchor="middle"><text x="572.52" y="240.10" stroke="#2e2e2e" stroke-width="0.10">8</text><text x="576.52" y="240.10" stroke="#2e2e2e" stroke-width="0.10">0</text></g>
<g font-size="8.40" fill="#2e2e2e" text-anchor="middle"><text x="611.00" y="240.10" stroke="#2e2e2e" stroke-width="0.10">1</text><text x="615.00" y="240.10" stroke="#2e2e2e" stroke-width="0.10">0</text><text x="619.00" y="240.10" stroke="#2e2e2e" stroke-width="0.10">0</text></g>
<g transform="rotate(-90 366.40 129.00)"><g font-size="11.00" fill="#3a3a3a" text-anchor="middle"><text transform="translate(353.77 132.60) scale(0.640 1)" x="0" y="0" stroke="#3a3a3a" stroke-width="0.06">R</text><text transform="translate(358.82 132.60) scale(0.840 1)" x="0" y="0" stroke="#3a3a3a" stroke-width="0.05">e</text><text transform="translate(363.88 132.60) scale(0.840 1)" x="0" y="0" stroke="#3a3a3a" stroke-width="0.05">c</text><text transform="translate(368.92 132.60) scale(0.840 1)" x="0" y="0" stroke="#3a3a3a" stroke-width="0.05">a</text><text transform="translate(373.97 132.60) scale(0.840 1)" x="0" y="0" stroke="#3a3a3a" stroke-width="0.05">l</text><text transform="translate(379.02 132.60) scale(0.840 1)" x="0" y="0" stroke="#3a3a3a" stroke-width="0.05">l</text></g></g>
<g font-size="11.40" fill="#2a2a2a" text-anchor="middle"><text transform="translate(503.58 253.60) scale(0.840 1)" x="0" y="0">e</text><text transform="translate(508.54 253.60) scale(0.840 1)" x="0" y="0">p</text><text transform="translate(513.50 253.60) scale(0.840 1)" x="0" y="0">o</text><text transform="translate(518.46 253.60) scale(0.840 1)" x="0" y="0">c</text><text transform="translate(523.42 253.60) scale(0.840 1)" x="0" y="0">h</text></g>
<rect x="163.50" y="440.40" width="115.10" height="57.20" fill="#ffffff" stroke="#c4c4c4" stroke-width="0.9"/>
<line x1="165.10" y1="447.50" x2="185.30" y2="447.50" stroke="#8e8e8e" stroke-width="0.8"/>
<g font-size="11.00" fill="#2c2c2c" text-anchor="middle"><text transform="translate(193.03 450.90) scale(0.640 1)" x="0" y="0" stroke="#2c2c2c" stroke-width="0.12">Y</text><text transform="translate(198.09 450.90) scale(0.640 1)" x="0" y="0" stroke="#2c2c2c" stroke-width="0.12">O</text><text transform="translate(203.15 450.90) scale(0.640 1)" x="0" y="0" stroke="#2c2c2c" stroke-width="0.12">L</text><text transform="translate(208.21 450.90) scale(0.640 1)" x="0" y="0" stroke="#2c2c2c" stroke-width="0.12">O</text><text transform="translate(213.27 450.90) scale(0.840 1)" x="0" y="0" stroke="#2c2c2c" stroke-width="0.10">v</text><text transform="translate(218.33 450.90) scale(0.860 1)" x="0" y="0" stroke="#2c2c2c" stroke-width="0.09">8</text><text transform="translate(223.39 450.90) scale(0.840 1)" x="0" y="0" stroke="#2c2c2c" stroke-width="0.10">n</text><text transform="translate(228.45 450.90) scale(0.950 1)" x="0" y="0" stroke="#2c2c2c" stroke-width="0.08">(</text><text transform="translate(233.51 450.90) scale(0.840 1)" x="0" y="0" stroke="#2c2c2c" stroke-width="0.10">b</text><text transform="translate(238.57 450.90) scale(0.840 1)" x="0" y="0" stroke="#2c2c2c" stroke-width="0.10">a</text><text transform="translate(243.63 450.90) scale(0.840 1)" x="0" y="0" stroke="#2c2c2c" stroke-width="0.10">s</text><text transform="translate(248.69 450.90) scale(0.840 1)" x="0" y="0" stroke="#2c2c2c" stroke-width="0.10">e</text><text transform="translate(253.75 450.90) scale(0.840 1)" x="0" y="0" stroke="#2c2c2c" stroke-width="0.10">l</text><text transform="translate(258.81 450.90) scale(0.840 1)" x="0" y="0" stroke="#2c2c2c" stroke-width="0.10">i</text><text transform="translate(263.87 450.90) scale(0.840 1)" x="0" y="0" stroke="#2c2c2c" stroke-width="0.10">n</text><text transform="translate(268.93 450.90) scale(0.840 1)" x="0" y="0" stroke="#2c2c2c" stroke-width="0.10">e</text><text transform="translate(273.99 450.90) scale(0.950 1)" x="0" y="0" stroke="#2c2c2c" stroke-width="0.08">)</text></g>
<line x1="165.10" y1="458.60" x2="185.30" y2="458.60" stroke="#e0a0a8" stroke-width="0.8"/>
<g font-size="11.00" fill="#2c2c2c" text-anchor="middle"><text transform="translate(193.03 462.00) scale(0.640 1)" x="0" y="0" stroke="#2c2c2c" stroke-width="0.12">Y</text><text transform="translate(198.09 462.00) scale(0.640 1)" x="0" y="0" stroke="#2c2c2c" stroke-width="0.12">O</text><text transform="translate(203.15 462.00) scale(0.640 1)" x="0" y="0" stroke="#2c2c2c" stroke-width="0.12">L</text><text transform="translate(208.21 462.00) scale(0.640 1)" x="0" y="0" stroke="#2c2c2c" stroke-width="0.12">O</text><text transform="translate(213.27 462.00) scale(0.840 1)" x="0" y="0" stroke="#2c2c2c" stroke-width="0.10">v</text><text transform="translate(218.33 462.00) scale(0.860 1)" x="0" y="0" stroke="#2c2c2c" stroke-width="0.09">1</text><text transform="translate(223.39 462.00) scale(0.860 1)" x="0" y="0" stroke="#2c2c2c" stroke-width="0.09">0</text><text transform="translate(228.45 462.00) scale(0.840 1)" x="0" y="0" stroke="#2c2c2c" stroke-width="0.10">n</text></g>
<line x1="165.10" y1="469.70" x2="185.30" y2="469.70" stroke="#8ea6d0" stroke-width="0.8"/>
<g font-size="11.00" fill="#2c2c2c" text-anchor="middle"><text transform="translate(193.03 473.10) scale(0.640 1)" x="0" y="0" stroke="#2c2c2c" stroke-width="0.12">Y</text><text transform="translate(198.09 473.10) scale(0.640 1)" x="0" y="0" stroke="#2c2c2c" stroke-width="0.12">O</text><text transform="translate(203.15 473.10) scale(0.640 1)" x="0" y="0" stroke="#2c2c2c" stroke-width="0.12">L</text><text transform="translate(208.21 473.10) scale(0.640 1)" x="0" y="0" stroke="#2c2c2c" stroke-width="0.12">O</text><text transform="translate(213.27 473.10) scale(0.840 1)" x="0" y="0" stroke="#2c2c2c" stroke-width="0.10">v</text><text transform="translate(218.33 473.10) scale(0.860 1)" x="0" y="0" stroke="#2c2c2c" stroke-width="0.09">1</text><text transform="translate(223.39 473.10) scale(0.860 1)" x="0" y="0" stroke="#2c2c2c" stroke-width="0.09">1</text><text transform="translate(228.45 473.10) scale(0.840 1)" x="0" y="0" stroke="#2c2c2c" stroke-width="0.10">n</text></g>
<line x1="165.10" y1="480.80" x2="185.30" y2="480.80" stroke="#96ceba" stroke-width="0.8"/>
<g font-size="11.00" fill="#2c2c2c" text-anchor="middle"><text transform="translate(193.03 484.20) scale(0.640 1)" x="0" y="0" stroke="#2c2c2c" stroke-width="0.12">Y</text><text transform="translate(198.09 484.20) scale(0.640 1)" x="0" y="0" stroke="#2c2c2c" stroke-width="0.12">O</text><text transform="translate(203.15 484.20) scale(0.640 1)" x="0" y="0" stroke="#2c2c2c" stroke-width="0.12">L</text><text transform="translate(208.21 484.20) scale(0.640 1)" x="0" y="0" stroke="#2c2c2c" stroke-width="0.12">O</text><text transform="translate(213.27 484.20) scale(0.840 1)" x="0" y="0" stroke="#2c2c2c" stroke-width="0.10">v</text><text transform="translate(218.33 484.20) scale(0.860 1)" x="0" y="0" stroke="#2c2c2c" stroke-width="0.09">1</text><text transform="translate(223.39 484.20) scale(0.860 1)" x="0" y="0" stroke="#2c2c2c" stroke-width="0.09">2</text><text transform="translate(228.45 484.20) scale(0.840 1)" x="0" y="0" stroke="#2c2c2c" stroke-width="0.10">n</text></g>
<line x1="165.10" y1="491.90" x2="185.30" y2="491.90" stroke="#c8b8d6" stroke-width="0.8"/>
<g font-size="11.00" fill="#2c2c2c" text-anchor="middle"><text transform="translate(193.03 495.30) scale(0.640 1)" x="0" y="0" stroke="#2c2c2c" stroke-width="0.12">R</text><text transform="translate(198.09 495.30) scale(0.640 1)" x="0" y="0" stroke="#2c2c2c" stroke-width="0.12">E</text><text transform="translate(203.15 495.30) scale(0.640 1)" x="0" y="0" stroke="#2c2c2c" stroke-width="0.12">G</text><text x="208.21" y="495.30" stroke="#2c2c2c" stroke-width="0.08">-</text><text transform="translate(213.27 495.30) scale(0.640 1)" x="0" y="0" stroke="#2c2c2c" stroke-width="0.12">Y</text><text transform="translate(218.33 495.30) scale(0.640 1)" x="0" y="0" stroke="#2c2c2c" stroke-width="0.12">O</text><text transform="translate(223.39 495.30) scale(0.640 1)" x="0" y="0" stroke="#2c2c2c" stroke-width="0.12">L</text><text transform="translate(228.45 495.30) scale(0.640 1)" x="0" y="0" stroke="#2c2c2c" stroke-width="0.12">O</text><text transform="translate(233.51 495.30) scale(0.950 1)" x="0" y="0" stroke="#2c2c2c" stroke-width="0.08">(</text><text transform="translate(238.57 495.30) scale(0.640 1)" x="0" y="0" stroke="#2c2c2c" stroke-width="0.12">O</text><text transform="translate(243.63 495.30) scale(0.840 1)" x="0" y="0" stroke="#2c2c2c" stroke-width="0.10">u</text><text transform="translate(248.69 495.30) scale(0.840 1)" x="0" y="0" stroke="#2c2c2c" stroke-width="0.10">r</text><text transform="translate(253.75 495.30) scale(0.840 1)" x="0" y="0" stroke="#2c2c2c" stroke-width="0.10">s</text><text transform="translate(258.81 495.30) scale(0.950 1)" x="0" y="0" stroke="#2c2c2c" stroke-width="0.08">)</text></g>
<path d="M36.70 305.00 V500.30 H279.40" fill="none" stroke="#4c4c4c" stroke-width="1.35" stroke-linecap="square"/>
<path d="M36.70 500.03H34.30 M36.70 482.30H32.90 M36.70 464.57H34.30 M36.70 446.84H32.90 M36.70 429.11H34.30 M36.70 411.38H32.90 M36.70 393.65H34.30 M36.70 375.92H32.90 M36.70 358.19H34.30 M36.70 340.46H32.90 M36.70 322.73H34.30 M36.70 305.00H32.90 M36.33 500.30V502.50 M76.90 500.30V503.90 M117.48 500.30V502.50 M158.05 500.30V503.90 M198.62 500.30V502.50 M239.20 500.30V503.90 M279.77 500.30V502.50" stroke="#4c4c4c" stroke-width="1.2"/>
<g font-size="8.80" fill="#2e2e2e" text-anchor="middle"><text x="19.58" y="485.90" stroke="#2e2e2e" stroke-width="0.10">0</text><text x="22.98" y="485.90" stroke="#2e2e2e" stroke-width="0.10">.</text><text x="28.08" y="485.90" stroke="#2e2e2e" stroke-width="0.10">0</text></g>
<g font-size="8.80" fill="#2e2e2e" text-anchor="middle"><text x="19.58" y="450.44" stroke="#2e2e2e" stroke-width="0.10">0</text><text x="22.98" y="450.44" stroke="#2e2e2e" stroke-width="0.10">.</text><text x="28.08" y="450.44" stroke="#2e2e2e" stroke-width="0.10">2</text></g>
<g font-size="8.80" fill="#2e2e2e" text-anchor="middle"><text x="19.58" y="414.98" stroke="#2e2e2e" stroke-width="0.10">0</text><text x="22.98" y="414.98" stroke="#2e2e2e" stroke-width="0.10">.</text><text x="28.08" y="414.98" stroke="#2e2e2e" stroke-width="0.10">4</text></g>
<g font-size="8.80" fill="#2e2e2e" text-anchor="middle"><text x="19.58" y="379.52" stroke="#2e2e2e" stroke-width="0.10">0</text><text x="22.98" y="379.52" stroke="#2e2e2e" stroke-width="0.10">.</text><text x="28.08" y="379.52" stroke="#2e2e2e" stroke-width="0.10">6</text></g>
<g font-size="8.80" fill="#2e2e2e" text-anchor="middle"><text x="19.58" y="344.06" stroke="#2e2e2e" stroke-width="0.10">0</text><text x="22.98" y="344.06" stroke="#2e2e2e" stroke-width="0.10">.</text><text x="28.08" y="344.06" stroke="#2e2e2e" stroke-width="0.10">8</text></g>
<g font-size="8.80" fill="#2e2e2e" text-anchor="middle"><text x="19.58" y="308.60" stroke="#2e2e2e" stroke-width="0.10">1</text><text x="22.98" y="308.60" stroke="#2e2e2e" stroke-width="0.10">.</text><text x="28.08" y="308.60" stroke="#2e2e2e" stroke-width="0.10">0</text></g>
<g font-size="8.40" fill="#2e2e2e" text-anchor="middle"><text x="76.90" y="513.40" stroke="#2e2e2e" stroke-width="0.10">0</text></g>
<g font-size="8.40" fill="#2e2e2e" text-anchor="middle"><text x="156.05" y="513.40" stroke="#2e2e2e" stroke-width="0.10">5</text><text x="160.05" y="513.40" stroke="#2e2e2e" stroke-width="0.10">0</text></g>
<g font-size="8.40" fill="#2e2e2e" text-anchor="middle"><text x="235.20" y="513.40" stroke="#2e2e2e" stroke-width="0.10">1</text><text x="239.20" y="513.40" stroke="#2e2e2e" stroke-width="0.10">0</text><text x="243.20" y="513.40" stroke="#2e2e2e" stroke-width="0.10">0</text></g>
<g transform="rotate(-90 10.50 402.60)"><g font-size="11.00" fill="#3a3a3a" text-anchor="middle"><text transform="translate(-4.65 406.20) scale(0.840 1)" x="0" y="0" stroke="#3a3a3a" stroke-width="0.05">m</text><text transform="translate(0.40 406.20) scale(0.640 1)" x="0" y="0" stroke="#3a3a3a" stroke-width="0.06">A</text><text transform="translate(5.45 406.20) scale(0.640 1)" x="0" y="0" stroke="#3a3a3a" stroke-width="0.06">P</text><text transform="translate(10.50 404.60) scale(0.6 0.8)" x="0" y="0" stroke="#3a3a3a" stroke-width="0.07">@</text><text transform="translate(15.55 406.20) scale(0.860 1)" x="0" y="0" stroke="#3a3a3a" stroke-width="0.05">0</text><text x="19.59" y="406.20" stroke="#3a3a3a" stroke-width="0.04">.</text><text transform="translate(25.65 406.20) scale(0.860 1)" x="0" y="0" stroke="#3a3a3a" stroke-width="0.05">5</text></g></g>
<g font-size="11.40" fill="#2a2a2a" text-anchor="middle"><text transform="translate(148.08 527.00) scale(0.840 1)" x="0" y="0">e</text><text transform="translate(153.04 527.00) scale(0.840 1)" x="0" y="0">p</text><text transform="translate(158.00 527.00) scale(0.840 1)" x="0" y="0">o</text><text transform="translate(162.96 527.00) scale(0.840 1)" x="0" y="0">c</text><text transform="translate(167.92 527.00) scale(0.840 1)" x="0" y="0">h</text></g>
<rect x="520.40" y="440.40" width="114.80" height="57.00" fill="#ffffff" stroke="#c4c4c4" stroke-width="0.9"/>
<line x1="522.00" y1="447.50" x2="542.20" y2="447.50" stroke="#8e8e8e" stroke-width="0.8"/>
<g font-size="11.00" fill="#2c2c2c" text-anchor="middle"><text transform="translate(549.93 450.90) scale(0.640 1)" x="0" y="0" stroke="#2c2c2c" stroke-width="0.12">Y</text><text transform="translate(554.99 450.90) scale(0.640 1)" x="0" y="0" stroke="#2c2c2c" stroke-width="0.12">O</text><text transform="translate(560.05 450.90) scale(0.640 1)" x="0" y="0" stroke="#2c2c2c" stroke-width="0.12">L</text><text transform="translate(565.11 450.90) scale(0.640 1)" x="0" y="0" stroke="#2c2c2c" stroke-width="0.12">O</text><text transform="translate(570.17 450.90) scale(0.840 1)" x="0" y="0" stroke="#2c2c2c" stroke-width="0.10">v</text><text transform="translate(575.23 450.90) scale(0.860 1)" x="0" y="0" stroke="#2c2c2c" stroke-width="0.09">8</text><text transform="translate(580.29 450.90) scale(0.840 1)" x="0" y="0" stroke="#2c2c2c" stroke-width="0.10">n</text><text transform="translate(585.35 450.90) scale(0.950 1)" x="0" y="0" stroke="#2c2c2c" stroke-width="0.08">(</text><text transform="translate(590.41 450.90) scale(0.840 1)" x="0" y="0" stroke="#2c2c2c" stroke-width="0.10">b</text><text transform="translate(595.47 450.90) scale(0.840 1)" x="0" y="0" stroke="#2c2c2c" stroke-width="0.10">a</text><text transform="translate(600.53 450.90) scale(0.840 1)" x="0" y="0" stroke="#2c2c2c" stroke-width="0.10">s</text><text transform="translate(605.59 450.90) scale(0.840 1)" x="0" y="0" stroke="#2c2c2c" stroke-width="0.10">e</text><text transform="translate(610.65 450.90) scale(0.840 1)" x="0" y="0" stroke="#2c2c2c" stroke-width="0.10">l</text><text transform="translate(615.71 450.90) scale(0.840 1)" x="0" y="0" stroke="#2c2c2c" stroke-width="0.10">i</text><text transform="translate(620.77 450.90) scale(0.840 1)" x="0" y="0" stroke="#2c2c2c" stroke-width="0.10">n</text><text transform="translate(625.83 450.90) scale(0.840 1)" x="0" y="0" stroke="#2c2c2c" stroke-width="0.10">e</text><text transform="translate(630.89 450.90) scale(0.950 1)" x="0" y="0" stroke="#2c2c2c" stroke-width="0.08">)</text></g>
<line x1="522.00" y1="458.60" x2="542.20" y2="458.60" stroke="#e0a0a8" stroke-width="0.8"/>
<g font-size="11.00" fill="#2c2c2c" text-anchor="middle"><text transform="translate(549.93 462.00) scale(0.640 1)" x="0" y="0" stroke="#2c2c2c" stroke-width="0.12">Y</text><text transform="translate(554.99 462.00) scale(0.640 1)" x="0" y="0" stroke="#2c2c2c" stroke-width="0.12">O</text><text transform="translate(560.05 462.00) scale(0.640 1)" x="0" y="0" stroke="#2c2c2c" stroke-width="0.12">L</text><text transform="translate(565.11 462.00) scale(0.640 1)" x="0" y="0" stroke="#2c2c2c" stroke-width="0.12">O</text><text transform="translate(570.17 462.00) scale(0.840 1)" x="0" y="0" stroke="#2c2c2c" stroke-width="0.10">v</text><text transform="translate(575.23 462.00) scale(0.860 1)" x="0" y="0" stroke="#2c2c2c" stroke-width="0.09">1</text><text transform="translate(580.29 462.00) scale(0.860 1)" x="0" y="0" stroke="#2c2c2c" stroke-width="0.09">0</text><text transform="translate(585.35 462.00) scale(0.840 1)" x="0" y="0" stroke="#2c2c2c" stroke-width="0.10">n</text></g>
<line x1="522.00" y1="469.70" x2="542.20" y2="469.70" stroke="#8ea6d0" stroke-width="0.8"/>
<g font-size="11.00" fill="#2c2c2c" text-anchor="middle"><text transform="translate(549.93 473.10) scale(0.640 1)" x="0" y="0" stroke="#2c2c2c" stroke-width="0.12">Y</text><text transform="translate(554.99 473.10) scale(0.640 1)" x="0" y="0" stroke="#2c2c2c" stroke-width="0.12">O</text><text transform="translate(560.05 473.10) scale(0.640 1)" x="0" y="0" stroke="#2c2c2c" stroke-width="0.12">L</text><text transform="translate(565.11 473.10) scale(0.640 1)" x="0" y="0" stroke="#2c2c2c" stroke-width="0.12">O</text><text transform="translate(570.17 473.10) scale(0.840 1)" x="0" y="0" stroke="#2c2c2c" stroke-width="0.10">v</text><text transform="translate(575.23 473.10) scale(0.860 1)" x="0" y="0" stroke="#2c2c2c" stroke-width="0.09">1</text><text transform="translate(580.29 473.10) scale(0.860 1)" x="0" y="0" stroke="#2c2c2c" stroke-width="0.09">1</text><text transform="translate(585.35 473.10) scale(0.840 1)" x="0" y="0" stroke="#2c2c2c" stroke-width="0.10">n</text></g>
<line x1="522.00" y1="480.80" x2="542.20" y2="480.80" stroke="#96ceba" stroke-width="0.8"/>
<g font-size="11.00" fill="#2c2c2c" text-anchor="middle"><text transform="translate(549.93 484.20) scale(0.640 1)" x="0" y="0" stroke="#2c2c2c" stroke-width="0.12">Y</text><text transform="translate(554.99 484.20) scale(0.640 1)" x="0" y="0" stroke="#2c2c2c" stroke-width="0.12">O</text><text transform="translate(560.05 484.20) scale(0.640 1)" x="0" y="0" stroke="#2c2c2c" stroke-width="0.12">L</text><text transform="translate(565.11 484.20) scale(0.640 1)" x="0" y="0" stroke="#2c2c2c" stroke-width="0.12">O</text><text transform="translate(570.17 484.20) scale(0.840 1)" x="0" y="0" stroke="#2c2c2c" stroke-width="0.10">v</text><text transform="translate(575.23 484.20) scale(0.860 1)" x="0" y="0" stroke="#2c2c2c" stroke-width="0.09">1</text><text transform="translate(580.29 484.20) scale(0.860 1)" x="0" y="0" stroke="#2c2c2c" stroke-width="0.09">2</text><text transform="translate(585.35 484.20) scale(0.840 1)" x="0" y="0" stroke="#2c2c2c" stroke-width="0.10">n</text></g>
<line x1="522.00" y1="491.90" x2="542.20" y2="491.90" stroke="#c8b8d6" stroke-width="0.8"/>
<g font-size="11.00" fill="#2c2c2c" text-anchor="middle"><text transform="translate(549.93 495.30) scale(0.640 1)" x="0" y="0" stroke="#2c2c2c" stroke-width="0.12">R</text><text transform="translate(554.99 495.30) scale(0.640 1)" x="0" y="0" stroke="#2c2c2c" stroke-width="0.12">E</text><text transform="translate(560.05 495.30) scale(0.640 1)" x="0" y="0" stroke="#2c2c2c" stroke-width="0.12">G</text><text x="565.11" y="495.30" stroke="#2c2c2c" stroke-width="0.08">-</text><text transform="translate(570.17 495.30) scale(0.640 1)" x="0" y="0" stroke="#2c2c2c" stroke-width="0.12">Y</text><text transform="translate(575.23 495.30) scale(0.640 1)" x="0" y="0" stroke="#2c2c2c" stroke-width="0.12">O</text><text transform="translate(580.29 495.30) scale(0.640 1)" x="0" y="0" stroke="#2c2c2c" stroke-width="0.12">L</text><text transform="translate(585.35 495.30) scale(0.640 1)" x="0" y="0" stroke="#2c2c2c" stroke-width="0.12">O</text><text transform="translate(590.41 495.30) scale(0.950 1)" x="0" y="0" stroke="#2c2c2c" stroke-width="0.08">(</text><text transform="translate(595.47 495.30) scale(0.640 1)" x="0" y="0" stroke="#2c2c2c" stroke-width="0.12">O</text><text transform="translate(600.53 495.30) scale(0.840 1)" x="0" y="0" stroke="#2c2c2c" stroke-width="0.10">u</text><text transform="translate(605.59 495.30) scale(0.840 1)" x="0" y="0" stroke="#2c2c2c" stroke-width="0.10">r</text><text transform="translate(610.65 495.30) scale(0.840 1)" x="0" y="0" stroke="#2c2c2c" stroke-width="0.10">s</text><text transform="translate(615.71 495.30) scale(0.950 1)" x="0" y="0" stroke="#2c2c2c" stroke-width="0.08">)</text></g>
<path d="M392.50 305.00 V500.30 H635.40" fill="none" stroke="#4c4c4c" stroke-width="1.35" stroke-linecap="square"/>
<path d="M392.50 500.66H388.70 M392.50 488.43H390.10 M392.50 476.20H388.70 M392.50 463.97H390.10 M392.50 451.74H388.70 M392.50 439.51H390.10 M392.50 427.28H388.70 M392.50 415.05H390.10 M392.50 402.82H388.70 M392.50 390.59H390.10 M392.50 378.36H388.70 M392.50 366.13H390.10 M392.50 353.90H388.70 M392.50 341.67H390.10 M392.50 329.44H388.70 M392.50 317.21H390.10 M392.50 304.98H388.70 M392.36 500.30V502.50 M412.60 500.30V503.90 M432.84 500.30V502.50 M453.08 500.30V503.90 M473.32 500.30V502.50 M493.56 500.30V503.90 M513.80 500.30V502.50 M534.04 500.30V503.90 M554.28 500.30V502.50 M574.52 500.30V503.90 M594.76 500.30V502.50 M615.00 500.30V503.90 M635.24 500.30V502.50" stroke="#4c4c4c" stroke-width="1.2"/>
<g font-size="8.80" fill="#2e2e2e" text-anchor="middle"><text x="371.12" y="504.26" stroke="#2e2e2e" stroke-width="0.10">-</text><text x="375.38" y="504.26" stroke="#2e2e2e" stroke-width="0.10">0</text><text x="378.77" y="504.26" stroke="#2e2e2e" stroke-width="0.10">.</text><text x="383.88" y="504.26" stroke="#2e2e2e" stroke-width="0.10">1</text></g>
<g font-size="8.80" fill="#2e2e2e" text-anchor="middle"><text x="375.38" y="479.80" stroke="#2e2e2e" stroke-width="0.10">0</text><text x="378.77" y="479.80" stroke="#2e2e2e" stroke-width="0.10">.</text><text x="383.88" y="479.80" stroke="#2e2e2e" stroke-width="0.10">0</text></g>
<g font-size="8.80" fill="#2e2e2e" text-anchor="middle"><text x="375.38" y="455.34" stroke="#2e2e2e" stroke-width="0.10">0</text><text x="378.77" y="455.34" stroke="#2e2e2e" stroke-width="0.10">.</text><text x="383.88" y="455.34" stroke="#2e2e2e" stroke-width="0.10">1</text></g>
<g font-size="8.80" fill="#2e2e2e" text-anchor="middle"><text x="375.38" y="430.88" stroke="#2e2e2e" stroke-width="0.10">0</text><text x="378.77" y="430.88" stroke="#2e2e2e" stroke-width="0.10">.</text><text x="383.88" y="430.88" stroke="#2e2e2e" stroke-width="0.10">2</text></g>
<g font-size="8.80" fill="#2e2e2e" text-anchor="middle"><text x="375.38" y="406.42" stroke="#2e2e2e" stroke-width="0.10">0</text><text x="378.77" y="406.42" stroke="#2e2e2e" stroke-width="0.10">.</text><text x="383.88" y="406.42" stroke="#2e2e2e" stroke-width="0.10">3</text></g>
<g font-size="8.80" fill="#2e2e2e" text-anchor="middle"><text x="375.38" y="381.96" stroke="#2e2e2e" stroke-width="0.10">0</text><text x="378.77" y="381.96" stroke="#2e2e2e" stroke-width="0.10">.</text><text x="383.88" y="381.96" stroke="#2e2e2e" stroke-width="0.10">4</text></g>
<g font-size="8.80" fill="#2e2e2e" text-anchor="middle"><text x="375.38" y="357.50" stroke="#2e2e2e" stroke-width="0.10">0</text><text x="378.77" y="357.50" stroke="#2e2e2e" stroke-width="0.10">.</text><text x="383.88" y="357.50" stroke="#2e2e2e" stroke-width="0.10">5</text></g>
<g font-size="8.80" fill="#2e2e2e" text-anchor="middle"><text x="375.38" y="333.04" stroke="#2e2e2e" stroke-width="0.10">0</text><text x="378.77" y="333.04" stroke="#2e2e2e" stroke-width="0.10">.</text><text x="383.88" y="333.04" stroke="#2e2e2e" stroke-width="0.10">6</text></g>
<g font-size="8.80" fill="#2e2e2e" text-anchor="middle"><text x="375.38" y="308.58" stroke="#2e2e2e" stroke-width="0.10">0</text><text x="378.77" y="308.58" stroke="#2e2e2e" stroke-width="0.10">.</text><text x="383.88" y="308.58" stroke="#2e2e2e" stroke-width="0.10">7</text></g>
<g font-size="8.40" fill="#2e2e2e" text-anchor="middle"><text x="412.60" y="513.40" stroke="#2e2e2e" stroke-width="0.10">0</text></g>
<g font-size="8.40" fill="#2e2e2e" text-anchor="middle"><text x="451.08" y="513.40" stroke="#2e2e2e" stroke-width="0.10">2</text><text x="455.08" y="513.40" stroke="#2e2e2e" stroke-width="0.10">0</text></g>
<g font-size="8.40" fill="#2e2e2e" text-anchor="middle"><text x="491.56" y="513.40" stroke="#2e2e2e" stroke-width="0.10">4</text><text x="495.56" y="513.40" stroke="#2e2e2e" stroke-width="0.10">0</text></g>
<g font-size="8.40" fill="#2e2e2e" text-anchor="middle"><text x="532.04" y="513.40" stroke="#2e2e2e" stroke-width="0.10">6</text><text x="536.04" y="513.40" stroke="#2e2e2e" stroke-width="0.10">0</text></g>
<g font-size="8.40" fill="#2e2e2e" text-anchor="middle"><text x="572.52" y="513.40" stroke="#2e2e2e" stroke-width="0.10">8</text><text x="576.52" y="513.40" stroke="#2e2e2e" stroke-width="0.10">0</text></g>
<g font-size="8.40" fill="#2e2e2e" text-anchor="middle"><text x="611.00" y="513.40" stroke="#2e2e2e" stroke-width="0.10">1</text><text x="615.00" y="513.40" stroke="#2e2e2e" stroke-width="0.10">0</text><text x="619.00" y="513.40" stroke="#2e2e2e" stroke-width="0.10">0</text></g>
<g transform="rotate(-90 362.20 402.00)"><g font-size="11.00" fill="#3a3a3a" text-anchor="middle"><text transform="translate(334.42 405.60) scale(0.840 1)" x="0" y="0" stroke="#3a3a3a" stroke-width="0.05">m</text><text transform="translate(339.47 405.60) scale(0.640 1)" x="0" y="0" stroke="#3a3a3a" stroke-width="0.06">A</text><text transform="translate(344.52 405.60) scale(0.640 1)" x="0" y="0" stroke="#3a3a3a" stroke-width="0.06">P</text><text transform="translate(349.57 404.00) scale(0.6 0.8)" x="0" y="0" stroke="#3a3a3a" stroke-width="0.07">@</text><text transform="translate(354.62 405.60) scale(0.860 1)" x="0" y="0" stroke="#3a3a3a" stroke-width="0.05">0</text><text x="358.66" y="405.60" stroke="#3a3a3a" stroke-width="0.04">.</text><text transform="translate(364.72 405.60) scale(0.860 1)" x="0" y="0" stroke="#3a3a3a" stroke-width="0.05">5</text><text x="368.76" y="405.60" stroke="#3a3a3a" stroke-width="0.04">:</text><text transform="translate(374.82 405.60) scale(0.860 1)" x="0" y="0" stroke="#3a3a3a" stroke-width="0.05">0</text><text x="378.86" y="405.60" stroke="#3a3a3a" stroke-width="0.04">.</text><text transform="translate(384.92 405.60) scale(0.860 1)" x="0" y="0" stroke="#3a3a3a" stroke-width="0.05">9</text><text transform="translate(389.97 405.60) scale(0.860 1)" x="0" y="0" stroke="#3a3a3a" stroke-width="0.05">5</text></g></g>
<g font-size="11.40" fill="#2a2a2a" text-anchor="middle"><text transform="translate(504.08 527.00) scale(0.840 1)" x="0" y="0">e</text><text transform="translate(509.04 527.00) scale(0.840 1)" x="0" y="0">p</text><text transform="translate(514.00 527.00) scale(0.840 1)" x="0" y="0">o</text><text transform="translate(518.96 527.00) scale(0.840 1)" x="0" y="0">c</text><text transform="translate(523.92 527.00) scale(0.840 1)" x="0" y="0">h</text></g>
</g>
</svg>
</body></html>
